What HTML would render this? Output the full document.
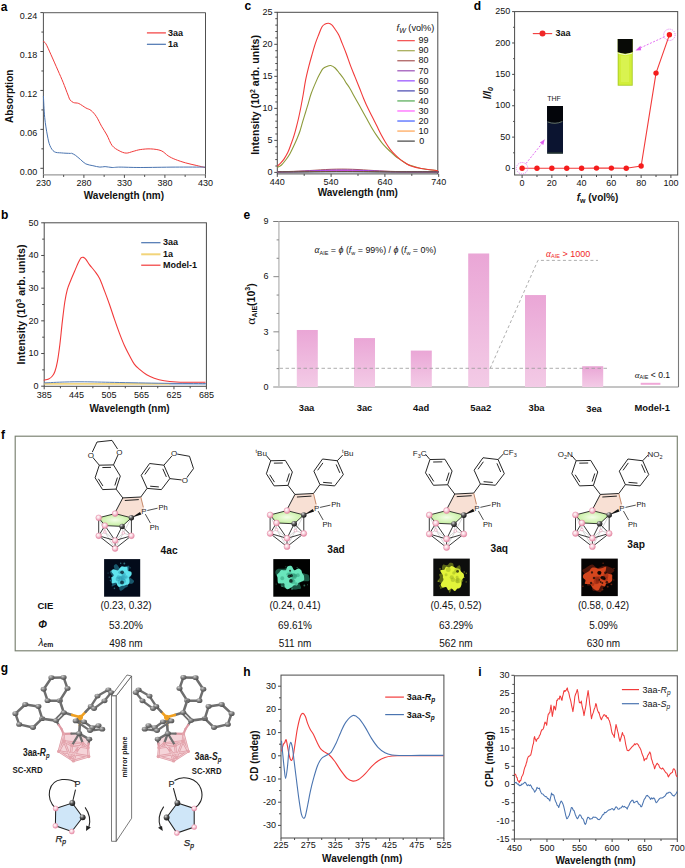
<!DOCTYPE html>
<html><head><meta charset="utf-8"><style>
html,body{margin:0;padding:0;background:#fff;width:685px;height:868px;overflow:hidden}
svg{display:block}
text{font-family:"Liberation Sans", sans-serif}
</style></head><body>
<svg width="685" height="868" viewBox="0 0 685 868">
<defs>
<linearGradient id="barg" x1="0" y1="0" x2="0" y2="1"><stop offset="0" stop-color="#eaa6d6"/><stop offset="1" stop-color="#f3cbe6"/></linearGradient>
<radialGradient id="pinkball" cx="0.4" cy="0.35" r="0.7"><stop offset="0" stop-color="#fff"/><stop offset="0.5" stop-color="#f7c9d6"/><stop offset="1" stop-color="#e07d9a"/></radialGradient>
<radialGradient id="blackball" cx="0.35" cy="0.3" r="0.75"><stop offset="0" stop-color="#ddd"/><stop offset="0.45" stop-color="#555"/><stop offset="1" stop-color="#111"/></radialGradient>
<radialGradient id="grayball" cx="0.35" cy="0.3" r="0.75"><stop offset="0" stop-color="#c8c8c8"/><stop offset="0.5" stop-color="#7a7a7a"/><stop offset="1" stop-color="#4a4a4a"/></radialGradient>
<radialGradient id="greenface" cx="0.5" cy="0.5" r="0.6"><stop offset="0" stop-color="#f4fde8"/><stop offset="1" stop-color="#b9ec8e"/></radialGradient>
</defs>
<rect width="685" height="868" fill="#fff"/>
<text x="0.8" y="10.5" font-size="12" font-weight="bold" fill="#000">a</text>
<text x="1" y="219.3" font-size="12" font-weight="bold" fill="#000">b</text>
<text x="244.6" y="9.6" font-size="12" font-weight="bold" fill="#000">c</text>
<text x="473.8" y="9.6" font-size="12" font-weight="bold" fill="#000">d</text>
<text x="243.6" y="218.7" font-size="12" font-weight="bold" fill="#000">e</text>
<text x="1" y="438.9" font-size="12" font-weight="bold" fill="#000">f</text>
<text x="0.8" y="672.3" font-size="12" font-weight="bold" fill="#000">g</text>
<text x="243.3" y="676" font-size="12" font-weight="bold" fill="#000">h</text>
<text x="478.3" y="676" font-size="12" font-weight="bold" fill="#000">i</text>
<line x1="43.4" y1="12.6" x2="205.5" y2="12.6" stroke="#7a7a7a" stroke-width="1.1"/>
<line x1="205.5" y1="12.6" x2="205.5" y2="174.9" stroke="#505050" stroke-width="1"/>
<line x1="43.4" y1="12.6" x2="43.4" y2="174.9" stroke="#505050" stroke-width="1"/>
<line x1="43.4" y1="174.9" x2="205.5" y2="174.9" stroke="#9a9a9a" stroke-width="1.3"/>
<line x1="40.4" y1="168.3" x2="43.4" y2="168.3" stroke="#4a4a4a" stroke-width="1"/>
<line x1="40.4" y1="129.37" x2="43.4" y2="129.37" stroke="#4a4a4a" stroke-width="1"/>
<line x1="40.4" y1="90.44" x2="43.4" y2="90.44" stroke="#4a4a4a" stroke-width="1"/>
<line x1="40.4" y1="51.51" x2="43.4" y2="51.51" stroke="#4a4a4a" stroke-width="1"/>
<line x1="40.4" y1="12.58" x2="43.4" y2="12.58" stroke="#4a4a4a" stroke-width="1"/>
<line x1="41.4" y1="148.84" x2="43.4" y2="148.84" stroke="#4a4a4a" stroke-width="1"/>
<line x1="41.4" y1="109.91" x2="43.4" y2="109.91" stroke="#4a4a4a" stroke-width="1"/>
<line x1="41.4" y1="70.98" x2="43.4" y2="70.98" stroke="#4a4a4a" stroke-width="1"/>
<line x1="41.4" y1="32.05" x2="43.4" y2="32.05" stroke="#4a4a4a" stroke-width="1"/>
<line x1="43.4" y1="174.9" x2="43.4" y2="177.9" stroke="#4a4a4a" stroke-width="1"/>
<line x1="83.9" y1="174.9" x2="83.9" y2="177.9" stroke="#4a4a4a" stroke-width="1"/>
<line x1="124.4" y1="174.9" x2="124.4" y2="177.9" stroke="#4a4a4a" stroke-width="1"/>
<line x1="164.9" y1="174.9" x2="164.9" y2="177.9" stroke="#4a4a4a" stroke-width="1"/>
<line x1="205.4" y1="174.9" x2="205.4" y2="177.9" stroke="#4a4a4a" stroke-width="1"/>
<line x1="63.65" y1="174.9" x2="63.65" y2="176.9" stroke="#4a4a4a" stroke-width="1"/>
<line x1="104.15" y1="174.9" x2="104.15" y2="176.9" stroke="#4a4a4a" stroke-width="1"/>
<line x1="144.65" y1="174.9" x2="144.65" y2="176.9" stroke="#4a4a4a" stroke-width="1"/>
<line x1="185.15" y1="174.9" x2="185.15" y2="176.9" stroke="#4a4a4a" stroke-width="1"/>
<text x="37.3" y="174.6" font-size="9" font-weight="normal" font-style="normal" text-anchor="end" fill="#111">0.00</text>
<text x="37.3" y="135.67" font-size="9" font-weight="normal" font-style="normal" text-anchor="end" fill="#111">0.06</text>
<text x="37.3" y="96.74" font-size="9" font-weight="normal" font-style="normal" text-anchor="end" fill="#111">0.12</text>
<text x="37.3" y="57.81" font-size="9" font-weight="normal" font-style="normal" text-anchor="end" fill="#111">0.18</text>
<text x="37.3" y="18.88" font-size="9" font-weight="normal" font-style="normal" text-anchor="end" fill="#111">0.24</text>
<text x="43.4" y="186.4" font-size="9" font-weight="normal" font-style="normal" text-anchor="middle" fill="#111">230</text>
<text x="83.9" y="186.4" font-size="9" font-weight="normal" font-style="normal" text-anchor="middle" fill="#111">280</text>
<text x="124.4" y="186.4" font-size="9" font-weight="normal" font-style="normal" text-anchor="middle" fill="#111">330</text>
<text x="164.9" y="186.4" font-size="9" font-weight="normal" font-style="normal" text-anchor="middle" fill="#111">380</text>
<text x="205.4" y="186.4" font-size="9" font-weight="normal" font-style="normal" text-anchor="middle" fill="#111">430</text>
<text x="123.9" y="199" font-size="10" font-weight="bold" font-style="normal" text-anchor="middle" fill="#111">Wavelength (nm)</text>
<text x="9.8" y="99.3" font-size="10" font-weight="bold" font-style="normal" text-anchor="middle" fill="#111" transform="rotate(-90 9.8 96.3)">Absorption</text>
<path d="M43.1 41.2 C43.57 41.63 44.62 41.62 45.9 43.8 C47.18 45.98 48.82 49.92 50.8 54.3 C52.78 58.68 55.75 65.43 57.8 70.1 C59.85 74.77 61.4 78.15 63.1 82.3 C64.8 86.45 66.83 92.07 68 95 C69.17 97.93 69.17 98.63 70.1 99.9 C71.03 101.17 72.15 102 73.6 102.6 C75.05 103.2 76.77 102.62 78.8 103.5 C80.83 104.38 83.75 106.73 85.8 107.9 C87.85 109.07 89.33 109.05 91.1 110.5 C92.87 111.95 94.65 113.97 96.4 116.6 C98.15 119.23 99.85 123.23 101.6 126.3 C103.35 129.37 105.15 131.8 106.9 135 C108.65 138.2 110.07 142.88 112.1 145.5 C114.13 148.12 116.77 149.43 119.1 150.7 C121.43 151.97 123.77 152.98 126.1 153.1 C128.43 153.22 130.75 151.98 133.1 151.4 C135.45 150.82 137.27 150.02 140.2 149.6 C143.13 149.18 147.2 148.72 150.7 148.9 C154.2 149.08 158.28 149.53 161.2 150.7 C164.12 151.87 165.87 154.45 168.2 155.9 C170.53 157.35 172.28 158.23 175.2 159.4 C178.12 160.57 182.2 161.9 185.7 162.9 C189.2 163.9 192.98 164.63 196.2 165.4 C199.42 166.17 203.53 167.15 205 167.5" stroke="#f23a3a" stroke-width="1" fill="none"/>
<path d="M43.4 96 C43.62 99.58 44.05 111 44.7 117.5 C45.35 124 46.43 130.33 47.3 135 C48.17 139.67 48.73 142.72 49.9 145.5 C51.07 148.28 52.4 150.47 54.3 151.7 C56.2 152.93 58.67 152.62 61.3 152.9 C63.93 153.18 68.35 153.32 70.1 153.4 C71.85 153.48 70.93 153.1 71.8 153.4 C72.67 153.7 73.83 154.17 75.3 155.2 C76.77 156.23 78.85 158.15 80.6 159.6 C82.35 161.05 83.75 162.88 85.8 163.9 C87.85 164.92 90.55 165.17 92.9 165.7 C95.25 166.23 97.87 166.95 99.9 167.1 C101.93 167.25 103.07 166.53 105.1 166.6 C107.13 166.67 109.62 167.42 112.1 167.5 C114.58 167.58 115.32 167.1 120 167.1 C124.68 167.1 131 167.5 140.2 167.5 C149.4 167.5 164.4 167.17 175.2 167.1 C186 167.03 200.03 167.1 205 167.1" stroke="#4a74b0" stroke-width="1" fill="none"/>
<line x1="146.9" y1="32.9" x2="165.9" y2="32.9" stroke="#f23a3a" stroke-width="1.2"/>
<line x1="146.9" y1="44.3" x2="165.9" y2="44.3" stroke="#4a74b0" stroke-width="1.2"/>
<text x="168" y="36" font-size="9" font-weight="bold" font-style="normal" text-anchor="start" fill="#111">3aa</text>
<text x="168" y="47.4" font-size="9" font-weight="bold" font-style="normal" text-anchor="start" fill="#111">1a</text>
<rect x="44.2" y="222.8" width="162.2" height="163.5" fill="none" stroke="#4a4a4a" stroke-width="1"/>
<line x1="41.2" y1="386.2" x2="44.2" y2="386.2" stroke="#4a4a4a" stroke-width="1"/>
<line x1="41.2" y1="353.52" x2="44.2" y2="353.52" stroke="#4a4a4a" stroke-width="1"/>
<line x1="41.2" y1="320.84" x2="44.2" y2="320.84" stroke="#4a4a4a" stroke-width="1"/>
<line x1="41.2" y1="288.16" x2="44.2" y2="288.16" stroke="#4a4a4a" stroke-width="1"/>
<line x1="41.2" y1="255.48" x2="44.2" y2="255.48" stroke="#4a4a4a" stroke-width="1"/>
<line x1="41.2" y1="222.8" x2="44.2" y2="222.8" stroke="#4a4a4a" stroke-width="1"/>
<line x1="42.2" y1="369.86" x2="44.2" y2="369.86" stroke="#4a4a4a" stroke-width="1"/>
<line x1="42.2" y1="337.18" x2="44.2" y2="337.18" stroke="#4a4a4a" stroke-width="1"/>
<line x1="42.2" y1="304.5" x2="44.2" y2="304.5" stroke="#4a4a4a" stroke-width="1"/>
<line x1="42.2" y1="271.82" x2="44.2" y2="271.82" stroke="#4a4a4a" stroke-width="1"/>
<line x1="42.2" y1="239.14" x2="44.2" y2="239.14" stroke="#4a4a4a" stroke-width="1"/>
<line x1="44.2" y1="386.3" x2="44.2" y2="389.3" stroke="#4a4a4a" stroke-width="1"/>
<line x1="76.64" y1="386.3" x2="76.64" y2="389.3" stroke="#4a4a4a" stroke-width="1"/>
<line x1="109.08" y1="386.3" x2="109.08" y2="389.3" stroke="#4a4a4a" stroke-width="1"/>
<line x1="141.52" y1="386.3" x2="141.52" y2="389.3" stroke="#4a4a4a" stroke-width="1"/>
<line x1="173.96" y1="386.3" x2="173.96" y2="389.3" stroke="#4a4a4a" stroke-width="1"/>
<line x1="206.4" y1="386.3" x2="206.4" y2="389.3" stroke="#4a4a4a" stroke-width="1"/>
<line x1="60.42" y1="386.3" x2="60.42" y2="388.3" stroke="#4a4a4a" stroke-width="1"/>
<line x1="92.86" y1="386.3" x2="92.86" y2="388.3" stroke="#4a4a4a" stroke-width="1"/>
<line x1="125.3" y1="386.3" x2="125.3" y2="388.3" stroke="#4a4a4a" stroke-width="1"/>
<line x1="157.74" y1="386.3" x2="157.74" y2="388.3" stroke="#4a4a4a" stroke-width="1"/>
<line x1="190.18" y1="386.3" x2="190.18" y2="388.3" stroke="#4a4a4a" stroke-width="1"/>
<text x="38.5" y="388.9" font-size="9" font-weight="normal" font-style="normal" text-anchor="end" fill="#111">0</text>
<text x="38.5" y="356.22" font-size="9" font-weight="normal" font-style="normal" text-anchor="end" fill="#111">10</text>
<text x="38.5" y="323.54" font-size="9" font-weight="normal" font-style="normal" text-anchor="end" fill="#111">20</text>
<text x="38.5" y="290.86" font-size="9" font-weight="normal" font-style="normal" text-anchor="end" fill="#111">30</text>
<text x="38.5" y="258.18" font-size="9" font-weight="normal" font-style="normal" text-anchor="end" fill="#111">40</text>
<text x="38.5" y="225.5" font-size="9" font-weight="normal" font-style="normal" text-anchor="end" fill="#111">50</text>
<text x="44.2" y="397.5" font-size="9" font-weight="normal" font-style="normal" text-anchor="middle" fill="#111">385</text>
<text x="76.64" y="397.5" font-size="9" font-weight="normal" font-style="normal" text-anchor="middle" fill="#111">445</text>
<text x="109.08" y="397.5" font-size="9" font-weight="normal" font-style="normal" text-anchor="middle" fill="#111">505</text>
<text x="141.52" y="397.5" font-size="9" font-weight="normal" font-style="normal" text-anchor="middle" fill="#111">565</text>
<text x="173.96" y="397.5" font-size="9" font-weight="normal" font-style="normal" text-anchor="middle" fill="#111">625</text>
<text x="206.4" y="397.5" font-size="9" font-weight="normal" font-style="normal" text-anchor="middle" fill="#111">685</text>
<text x="129.6" y="411.8" font-size="10" font-weight="bold" font-style="normal" text-anchor="middle" fill="#111">Wavelength (nm)</text>
<text x="0" y="0" font-size="10.6" font-weight="bold" text-anchor="middle" fill="#111" transform="translate(24.5,304.5) rotate(-90)">Intensity (10<tspan font-size="7" dy="-4">3</tspan><tspan dy="4"> arb. units)</tspan></text>
<path d="M43.7 380.2 C44.53 380 47.25 379.7 48.7 379 C50.15 378.3 51.37 377.25 52.4 376 C53.43 374.75 54.07 373.9 54.9 371.5 C55.73 369.1 56.57 366.15 57.4 361.6 C58.23 357.05 59.08 350.82 59.9 344.2 C60.72 337.58 61.48 328.93 62.3 321.9 C63.12 314.87 63.97 307.38 64.8 302 C65.63 296.62 66.27 293.32 67.3 289.6 C68.33 285.88 69.77 282.8 71 279.7 C72.23 276.6 73.45 273.9 74.7 271 C75.95 268.1 77.45 264.48 78.5 262.3 C79.55 260.12 80.18 258.72 81 257.9 C81.82 257.08 82.58 257.15 83.4 257.4 C84.22 257.65 84.87 258.17 85.9 259.4 C86.93 260.63 88.15 262.87 89.6 264.8 C91.05 266.73 92.93 268.72 94.6 271 C96.27 273.28 97.95 275.18 99.6 278.5 C101.25 281.82 102.85 286.57 104.5 290.9 C106.15 295.23 107.83 299.75 109.5 304.5 C111.17 309.25 112.85 314.63 114.5 319.4 C116.15 324.17 117.75 328.75 119.4 333.1 C121.05 337.45 122.73 341.78 124.4 345.5 C126.07 349.22 127.75 352.3 129.4 355.4 C131.05 358.5 132.65 361.82 134.3 364.1 C135.95 366.38 137.23 367.32 139.3 369.1 C141.37 370.88 144.22 373.28 146.7 374.8 C149.18 376.32 151.3 377.22 154.2 378.2 C157.1 379.18 160.38 380.07 164.1 380.7 C167.82 381.33 172.37 381.75 176.5 382 C180.63 382.25 184.07 382.17 188.9 382.2 C193.73 382.23 202.73 382.2 205.5 382.2" stroke="#f23a3a" stroke-width="1.1" fill="none"/>
<path d="M169 383.9 L205.8 384" stroke="#a8c0e0" stroke-width="1.6" fill="none"/>
<path d="M44.4 383.9 C56.08 383.9 93.5 383.9 114.5 383.9 C135.5 383.9 161.08 383.9 170.4 383.9" stroke="#f2d680" stroke-width="1.8" fill="none"/>
<path d="M44.4 382.9 C47.8 382.75 58.08 382.18 64.8 382 C71.52 381.82 76.42 381.73 84.7 381.8 C92.98 381.87 101.27 382.15 114.5 382.4 C127.73 382.65 148.88 383.1 164.1 383.3 C179.32 383.5 198.85 383.55 205.8 383.6" stroke="#5a80b8" stroke-width="1" fill="none"/>
<line x1="141.2" y1="242.7" x2="160.5" y2="242.7" stroke="#4a74b0" stroke-width="1.2"/>
<line x1="141.2" y1="254.3" x2="160.5" y2="254.3" stroke="#f2d47a" stroke-width="2"/>
<line x1="141.2" y1="265.2" x2="160.5" y2="265.2" stroke="#f23a3a" stroke-width="1.2"/>
<text x="162.9" y="245.4" font-size="9" font-weight="bold" font-style="normal" text-anchor="start" fill="#111">3aa</text>
<text x="162.9" y="257" font-size="9" font-weight="bold" font-style="normal" text-anchor="start" fill="#111">1a</text>
<text x="162.9" y="267.9" font-size="9" font-weight="bold" font-style="normal" text-anchor="start" fill="#111">Model-1</text>
<rect x="277.3" y="12.3" width="160.5" height="161.6" fill="none" stroke="#4a4a4a" stroke-width="1"/>
<line x1="274.3" y1="172.4" x2="277.3" y2="172.4" stroke="#4a4a4a" stroke-width="1"/>
<line x1="274.3" y1="140.38" x2="277.3" y2="140.38" stroke="#4a4a4a" stroke-width="1"/>
<line x1="274.3" y1="108.36" x2="277.3" y2="108.36" stroke="#4a4a4a" stroke-width="1"/>
<line x1="274.3" y1="76.34" x2="277.3" y2="76.34" stroke="#4a4a4a" stroke-width="1"/>
<line x1="274.3" y1="44.32" x2="277.3" y2="44.32" stroke="#4a4a4a" stroke-width="1"/>
<line x1="274.3" y1="12.3" x2="277.3" y2="12.3" stroke="#4a4a4a" stroke-width="1"/>
<line x1="275.3" y1="166" x2="277.3" y2="166" stroke="#4a4a4a" stroke-width="1"/>
<line x1="275.3" y1="159.59" x2="277.3" y2="159.59" stroke="#4a4a4a" stroke-width="1"/>
<line x1="275.3" y1="153.19" x2="277.3" y2="153.19" stroke="#4a4a4a" stroke-width="1"/>
<line x1="275.3" y1="146.78" x2="277.3" y2="146.78" stroke="#4a4a4a" stroke-width="1"/>
<line x1="275.3" y1="133.98" x2="277.3" y2="133.98" stroke="#4a4a4a" stroke-width="1"/>
<line x1="275.3" y1="127.57" x2="277.3" y2="127.57" stroke="#4a4a4a" stroke-width="1"/>
<line x1="275.3" y1="121.17" x2="277.3" y2="121.17" stroke="#4a4a4a" stroke-width="1"/>
<line x1="275.3" y1="114.76" x2="277.3" y2="114.76" stroke="#4a4a4a" stroke-width="1"/>
<line x1="275.3" y1="101.96" x2="277.3" y2="101.96" stroke="#4a4a4a" stroke-width="1"/>
<line x1="275.3" y1="95.55" x2="277.3" y2="95.55" stroke="#4a4a4a" stroke-width="1"/>
<line x1="275.3" y1="89.15" x2="277.3" y2="89.15" stroke="#4a4a4a" stroke-width="1"/>
<line x1="275.3" y1="82.74" x2="277.3" y2="82.74" stroke="#4a4a4a" stroke-width="1"/>
<line x1="275.3" y1="69.94" x2="277.3" y2="69.94" stroke="#4a4a4a" stroke-width="1"/>
<line x1="275.3" y1="63.53" x2="277.3" y2="63.53" stroke="#4a4a4a" stroke-width="1"/>
<line x1="275.3" y1="57.13" x2="277.3" y2="57.13" stroke="#4a4a4a" stroke-width="1"/>
<line x1="275.3" y1="50.72" x2="277.3" y2="50.72" stroke="#4a4a4a" stroke-width="1"/>
<line x1="275.3" y1="37.92" x2="277.3" y2="37.92" stroke="#4a4a4a" stroke-width="1"/>
<line x1="275.3" y1="31.51" x2="277.3" y2="31.51" stroke="#4a4a4a" stroke-width="1"/>
<line x1="275.3" y1="25.11" x2="277.3" y2="25.11" stroke="#4a4a4a" stroke-width="1"/>
<line x1="275.3" y1="18.7" x2="277.3" y2="18.7" stroke="#4a4a4a" stroke-width="1"/>
<line x1="277.3" y1="173.9" x2="277.3" y2="176.9" stroke="#4a4a4a" stroke-width="1"/>
<line x1="331.1" y1="173.9" x2="331.1" y2="176.9" stroke="#4a4a4a" stroke-width="1"/>
<line x1="384.9" y1="173.9" x2="384.9" y2="176.9" stroke="#4a4a4a" stroke-width="1"/>
<line x1="438.7" y1="173.9" x2="438.7" y2="176.9" stroke="#4a4a4a" stroke-width="1"/>
<line x1="304.2" y1="173.9" x2="304.2" y2="175.9" stroke="#4a4a4a" stroke-width="1"/>
<line x1="358" y1="173.9" x2="358" y2="175.9" stroke="#4a4a4a" stroke-width="1"/>
<line x1="411.8" y1="173.9" x2="411.8" y2="175.9" stroke="#4a4a4a" stroke-width="1"/>
<text x="272.5" y="175.1" font-size="9" font-weight="normal" font-style="normal" text-anchor="end" fill="#111">0</text>
<text x="272.5" y="143.08" font-size="9" font-weight="normal" font-style="normal" text-anchor="end" fill="#111">5</text>
<text x="272.5" y="111.06" font-size="9" font-weight="normal" font-style="normal" text-anchor="end" fill="#111">10</text>
<text x="272.5" y="79.04" font-size="9" font-weight="normal" font-style="normal" text-anchor="end" fill="#111">15</text>
<text x="272.5" y="47.02" font-size="9" font-weight="normal" font-style="normal" text-anchor="end" fill="#111">20</text>
<text x="272.5" y="15" font-size="9" font-weight="normal" font-style="normal" text-anchor="end" fill="#111">25</text>
<text x="277.3" y="184.9" font-size="9" font-weight="normal" font-style="normal" text-anchor="middle" fill="#111">440</text>
<text x="331.1" y="184.9" font-size="9" font-weight="normal" font-style="normal" text-anchor="middle" fill="#111">540</text>
<text x="384.9" y="184.9" font-size="9" font-weight="normal" font-style="normal" text-anchor="middle" fill="#111">640</text>
<text x="438.7" y="184.9" font-size="9" font-weight="normal" font-style="normal" text-anchor="middle" fill="#111">740</text>
<text x="357.8" y="195.7" font-size="10" font-weight="bold" font-style="normal" text-anchor="middle" fill="#111">Wavelength (nm)</text>
<text x="0" y="0" font-size="10.6" font-weight="bold" text-anchor="middle" fill="#111" transform="translate(259,94.9) rotate(-90)">Intensity (10<tspan font-size="7" dy="-4">2</tspan><tspan dy="4"> arb. units)</tspan></text>
<path d="M277.3 171.74 C278.2 171.72 280.89 171.69 282.68 171.65 C284.47 171.61 286.27 171.57 288.06 171.52 C289.85 171.47 291.65 171.41 293.44 171.35 C295.23 171.28 297.03 171.21 298.82 171.12 C300.61 171.04 302.41 170.95 304.2 170.85 C305.99 170.75 307.79 170.65 309.58 170.54 C311.37 170.43 313.17 170.31 314.96 170.2 C316.75 170.08 318.55 169.96 320.34 169.85 C322.13 169.75 323.93 169.64 325.72 169.54 C327.51 169.45 329.31 169.36 331.1 169.29 C332.89 169.22 334.69 169.16 336.48 169.13 C338.27 169.09 340.07 169.07 341.86 169.07 C343.65 169.07 345.45 169.09 347.24 169.13 C349.03 169.16 350.83 169.22 352.62 169.29 C354.41 169.36 356.21 169.45 358 169.54 C359.79 169.64 361.59 169.75 363.38 169.85 C365.17 169.96 366.97 170.08 368.76 170.2 C370.55 170.31 372.35 170.43 374.14 170.54 C375.93 170.65 377.73 170.75 379.52 170.85 C381.31 170.95 383.11 171.04 384.9 171.12 C386.69 171.21 388.49 171.28 390.28 171.35 C392.07 171.41 393.87 171.47 395.66 171.52 C397.45 171.57 399.25 171.61 401.04 171.65 C402.83 171.69 404.63 171.71 406.42 171.74 C408.21 171.76 410.01 171.78 411.8 171.8 C413.59 171.81 415.39 171.83 417.18 171.84 C418.97 171.85 420.77 171.85 422.56 171.86 C424.35 171.87 426.15 171.87 427.94 171.87 C429.73 171.88 431.53 171.88 433.32 171.88 C435.11 171.88 437.8 171.88 438.7 171.88" stroke="#a04848" stroke-width="0.9" fill="none"/>
<path d="M277.3 171.78 C278.2 171.77 280.89 171.74 282.68 171.71 C284.47 171.69 286.27 171.66 288.06 171.62 C289.85 171.58 291.65 171.54 293.44 171.5 C295.23 171.45 297.03 171.39 298.82 171.33 C300.61 171.27 302.41 171.21 304.2 171.13 C305.99 171.06 307.79 170.98 309.58 170.9 C311.37 170.83 313.17 170.74 314.96 170.66 C316.75 170.57 318.55 170.49 320.34 170.41 C322.13 170.33 323.93 170.25 325.72 170.18 C327.51 170.11 329.31 170.05 331.1 170 C332.89 169.95 334.69 169.91 336.48 169.88 C338.27 169.85 340.07 169.84 341.86 169.84 C343.65 169.84 345.45 169.85 347.24 169.88 C349.03 169.91 350.83 169.95 352.62 170 C354.41 170.05 356.21 170.11 358 170.18 C359.79 170.25 361.59 170.33 363.38 170.41 C365.17 170.49 366.97 170.57 368.76 170.66 C370.55 170.74 372.35 170.83 374.14 170.9 C375.93 170.98 377.73 171.06 379.52 171.13 C381.31 171.21 383.11 171.27 384.9 171.33 C386.69 171.39 388.49 171.45 390.28 171.5 C392.07 171.54 393.87 171.58 395.66 171.62 C397.45 171.66 399.25 171.69 401.04 171.71 C402.83 171.74 404.63 171.76 406.42 171.78 C408.21 171.8 410.01 171.81 411.8 171.82 C413.59 171.83 415.39 171.84 417.18 171.85 C418.97 171.86 420.77 171.86 422.56 171.87 C424.35 171.87 426.15 171.87 427.94 171.88 C429.73 171.88 431.53 171.88 433.32 171.88 C435.11 171.88 437.8 171.88 438.7 171.88" stroke="#9040b0" stroke-width="0.9" fill="none"/>
<path d="M277.3 171.82 C278.2 171.81 280.89 171.8 282.68 171.78 C284.47 171.76 286.27 171.74 288.06 171.72 C289.85 171.7 291.65 171.67 293.44 171.64 C295.23 171.61 297.03 171.58 298.82 171.54 C300.61 171.5 302.41 171.46 304.2 171.42 C305.99 171.37 307.79 171.32 309.58 171.27 C311.37 171.22 313.17 171.17 314.96 171.12 C316.75 171.07 318.55 171.01 320.34 170.96 C322.13 170.91 323.93 170.86 325.72 170.82 C327.51 170.78 329.31 170.74 331.1 170.71 C332.89 170.68 334.69 170.65 336.48 170.63 C338.27 170.62 340.07 170.61 341.86 170.61 C343.65 170.61 345.45 170.62 347.24 170.63 C349.03 170.65 350.83 170.68 352.62 170.71 C354.41 170.74 356.21 170.78 358 170.82 C359.79 170.86 361.59 170.91 363.38 170.96 C365.17 171.01 366.97 171.07 368.76 171.12 C370.55 171.17 372.35 171.22 374.14 171.27 C375.93 171.32 377.73 171.37 379.52 171.42 C381.31 171.46 383.11 171.5 384.9 171.54 C386.69 171.58 388.49 171.61 390.28 171.64 C392.07 171.67 393.87 171.7 395.66 171.72 C397.45 171.74 399.25 171.76 401.04 171.78 C402.83 171.8 404.63 171.81 406.42 171.82 C408.21 171.83 410.01 171.84 411.8 171.85 C413.59 171.85 415.39 171.86 417.18 171.86 C418.97 171.87 420.77 171.87 422.56 171.87 C424.35 171.88 426.15 171.88 427.94 171.88 C429.73 171.88 431.53 171.88 433.32 171.88 C435.11 171.89 437.8 171.89 438.7 171.89" stroke="#8a3cff" stroke-width="0.9" fill="none"/>
<path d="M277.3 171.85 C278.2 171.85 280.89 171.84 282.68 171.83 C284.47 171.83 286.27 171.82 288.06 171.8 C289.85 171.79 291.65 171.78 293.44 171.77 C295.23 171.75 297.03 171.73 298.82 171.71 C300.61 171.7 302.41 171.67 304.2 171.65 C305.99 171.63 307.79 171.61 309.58 171.58 C311.37 171.56 313.17 171.53 314.96 171.5 C316.75 171.48 318.55 171.45 320.34 171.43 C322.13 171.4 323.93 171.38 325.72 171.35 C327.51 171.33 329.31 171.31 331.1 171.3 C332.89 171.28 334.69 171.27 336.48 171.26 C338.27 171.25 340.07 171.25 341.86 171.25 C343.65 171.25 345.45 171.25 347.24 171.26 C349.03 171.27 350.83 171.28 352.62 171.3 C354.41 171.31 356.21 171.33 358 171.35 C359.79 171.38 361.59 171.4 363.38 171.43 C365.17 171.45 366.97 171.48 368.76 171.5 C370.55 171.53 372.35 171.56 374.14 171.58 C375.93 171.61 377.73 171.63 379.52 171.65 C381.31 171.67 383.11 171.7 384.9 171.71 C386.69 171.73 388.49 171.75 390.28 171.77 C392.07 171.78 393.87 171.79 395.66 171.8 C397.45 171.82 399.25 171.83 401.04 171.83 C402.83 171.84 404.63 171.85 406.42 171.85 C408.21 171.86 410.01 171.86 411.8 171.87 C413.59 171.87 415.39 171.87 417.18 171.88 C418.97 171.88 420.77 171.88 422.56 171.88 C424.35 171.88 426.15 171.88 427.94 171.88 C429.73 171.89 431.53 171.89 433.32 171.89 C435.11 171.89 437.8 171.89 438.7 171.89" stroke="#3030a0" stroke-width="0.9" fill="none"/>
<path d="M277.3 171.87 C278.2 171.87 280.89 171.86 282.68 171.86 C284.47 171.85 286.27 171.84 288.06 171.84 C289.85 171.83 291.65 171.82 293.44 171.81 C295.23 171.81 297.03 171.79 298.82 171.78 C300.61 171.77 302.41 171.76 304.2 171.75 C305.99 171.73 307.79 171.72 309.58 171.7 C311.37 171.69 313.17 171.67 314.96 171.66 C316.75 171.64 318.55 171.63 320.34 171.61 C322.13 171.6 323.93 171.58 325.72 171.57 C327.51 171.56 329.31 171.54 331.1 171.53 C332.89 171.52 334.69 171.52 336.48 171.51 C338.27 171.51 340.07 171.5 341.86 171.5 C343.65 171.5 345.45 171.51 347.24 171.51 C349.03 171.52 350.83 171.52 352.62 171.53 C354.41 171.54 356.21 171.56 358 171.57 C359.79 171.58 361.59 171.6 363.38 171.61 C365.17 171.63 366.97 171.64 368.76 171.66 C370.55 171.67 372.35 171.69 374.14 171.7 C375.93 171.72 377.73 171.73 379.52 171.75 C381.31 171.76 383.11 171.77 384.9 171.78 C386.69 171.79 388.49 171.81 390.28 171.81 C392.07 171.82 393.87 171.83 395.66 171.84 C397.45 171.84 399.25 171.85 401.04 171.86 C402.83 171.86 404.63 171.86 406.42 171.87 C408.21 171.87 410.01 171.87 411.8 171.88 C413.59 171.88 415.39 171.88 417.18 171.88 C418.97 171.88 420.77 171.88 422.56 171.88 C424.35 171.88 426.15 171.89 427.94 171.89 C429.73 171.89 431.53 171.89 433.32 171.89 C435.11 171.89 437.8 171.89 438.7 171.89" stroke="#40a040" stroke-width="0.9" fill="none"/>
<path d="M277.3 171.84 C278.2 171.84 280.89 171.82 282.68 171.81 C284.47 171.8 286.27 171.79 288.06 171.77 C289.85 171.76 291.65 171.74 293.44 171.72 C295.23 171.69 297.03 171.67 298.82 171.64 C300.61 171.62 302.41 171.59 304.2 171.56 C305.99 171.53 307.79 171.49 309.58 171.46 C311.37 171.42 313.17 171.39 314.96 171.35 C316.75 171.31 318.55 171.28 320.34 171.24 C322.13 171.21 323.93 171.17 325.72 171.14 C327.51 171.11 329.31 171.08 331.1 171.06 C332.89 171.04 334.69 171.02 336.48 171.01 C338.27 171 340.07 170.99 341.86 170.99 C343.65 170.99 345.45 171 347.24 171.01 C349.03 171.02 350.83 171.04 352.62 171.06 C354.41 171.08 356.21 171.11 358 171.14 C359.79 171.17 361.59 171.21 363.38 171.24 C365.17 171.28 366.97 171.31 368.76 171.35 C370.55 171.39 372.35 171.42 374.14 171.46 C375.93 171.49 377.73 171.53 379.52 171.56 C381.31 171.59 383.11 171.62 384.9 171.64 C386.69 171.67 388.49 171.69 390.28 171.72 C392.07 171.74 393.87 171.76 395.66 171.77 C397.45 171.79 399.25 171.8 401.04 171.81 C402.83 171.82 404.63 171.83 406.42 171.84 C408.21 171.85 410.01 171.85 411.8 171.86 C413.59 171.86 415.39 171.87 417.18 171.87 C418.97 171.87 420.77 171.88 422.56 171.88 C424.35 171.88 426.15 171.88 427.94 171.88 C429.73 171.88 431.53 171.88 433.32 171.89 C435.11 171.89 437.8 171.89 438.7 171.89" stroke="#ff40ff" stroke-width="0.9" fill="none"/>
<path d="M277.3 171.87 C278.2 171.87 280.89 171.87 282.68 171.87 C284.47 171.86 286.27 171.86 288.06 171.85 C289.85 171.85 291.65 171.84 293.44 171.84 C295.23 171.83 297.03 171.83 298.82 171.82 C300.61 171.81 302.41 171.8 304.2 171.79 C305.99 171.78 307.79 171.77 309.58 171.76 C311.37 171.75 313.17 171.74 314.96 171.73 C316.75 171.72 318.55 171.71 320.34 171.7 C322.13 171.69 323.93 171.68 325.72 171.67 C327.51 171.67 329.31 171.66 331.1 171.65 C332.89 171.65 334.69 171.64 336.48 171.64 C338.27 171.63 340.07 171.63 341.86 171.63 C343.65 171.63 345.45 171.63 347.24 171.64 C349.03 171.64 350.83 171.65 352.62 171.65 C354.41 171.66 356.21 171.67 358 171.67 C359.79 171.68 361.59 171.69 363.38 171.7 C365.17 171.71 366.97 171.72 368.76 171.73 C370.55 171.74 372.35 171.75 374.14 171.76 C375.93 171.77 377.73 171.78 379.52 171.79 C381.31 171.8 383.11 171.81 384.9 171.82 C386.69 171.83 388.49 171.83 390.28 171.84 C392.07 171.84 393.87 171.85 395.66 171.85 C397.45 171.86 399.25 171.86 401.04 171.87 C402.83 171.87 404.63 171.87 406.42 171.87 C408.21 171.88 410.01 171.88 411.8 171.88 C413.59 171.88 415.39 171.88 417.18 171.88 C418.97 171.88 420.77 171.88 422.56 171.89 C424.35 171.89 426.15 171.89 427.94 171.89 C429.73 171.89 431.53 171.89 433.32 171.89 C435.11 171.89 437.8 171.89 438.7 171.89" stroke="#3050ff" stroke-width="0.9" fill="none"/>
<path d="M277.3 171.86 C278.2 171.86 280.89 171.85 282.68 171.84 C284.47 171.84 286.27 171.83 288.06 171.82 C289.85 171.81 291.65 171.8 293.44 171.79 C295.23 171.78 297.03 171.76 298.82 171.75 C300.61 171.73 302.41 171.72 304.2 171.7 C305.99 171.68 307.79 171.66 309.58 171.64 C311.37 171.62 313.17 171.6 314.96 171.58 C316.75 171.56 318.55 171.54 320.34 171.52 C322.13 171.5 323.93 171.48 325.72 171.46 C327.51 171.44 329.31 171.43 331.1 171.42 C332.89 171.4 334.69 171.39 336.48 171.39 C338.27 171.38 340.07 171.38 341.86 171.38 C343.65 171.38 345.45 171.38 347.24 171.39 C349.03 171.39 350.83 171.4 352.62 171.42 C354.41 171.43 356.21 171.44 358 171.46 C359.79 171.48 361.59 171.5 363.38 171.52 C365.17 171.54 366.97 171.56 368.76 171.58 C370.55 171.6 372.35 171.62 374.14 171.64 C375.93 171.66 377.73 171.68 379.52 171.7 C381.31 171.72 383.11 171.73 384.9 171.75 C386.69 171.76 388.49 171.78 390.28 171.79 C392.07 171.8 393.87 171.81 395.66 171.82 C397.45 171.83 399.25 171.84 401.04 171.84 C402.83 171.85 404.63 171.86 406.42 171.86 C408.21 171.87 410.01 171.87 411.8 171.87 C413.59 171.87 415.39 171.88 417.18 171.88 C418.97 171.88 420.77 171.88 422.56 171.88 C424.35 171.88 426.15 171.88 427.94 171.88 C429.73 171.89 431.53 171.89 433.32 171.89 C435.11 171.89 437.8 171.89 438.7 171.89" stroke="#ff9a40" stroke-width="0.9" fill="none"/>
<path d="M277.3 171.88 C278.2 171.88 280.89 171.88 282.68 171.88 C284.47 171.88 286.27 171.87 288.06 171.87 C289.85 171.87 291.65 171.87 293.44 171.86 C295.23 171.86 297.03 171.86 298.82 171.85 C300.61 171.85 302.41 171.85 304.2 171.84 C305.99 171.84 307.79 171.83 309.58 171.83 C311.37 171.82 313.17 171.82 314.96 171.81 C316.75 171.81 318.55 171.8 320.34 171.8 C322.13 171.79 323.93 171.79 325.72 171.78 C327.51 171.78 329.31 171.77 331.1 171.77 C332.89 171.77 334.69 171.76 336.48 171.76 C338.27 171.76 340.07 171.76 341.86 171.76 C343.65 171.76 345.45 171.76 347.24 171.76 C349.03 171.76 350.83 171.77 352.62 171.77 C354.41 171.77 356.21 171.78 358 171.78 C359.79 171.79 361.59 171.79 363.38 171.8 C365.17 171.8 366.97 171.81 368.76 171.81 C370.55 171.82 372.35 171.82 374.14 171.83 C375.93 171.83 377.73 171.84 379.52 171.84 C381.31 171.85 383.11 171.85 384.9 171.85 C386.69 171.86 388.49 171.86 390.28 171.86 C392.07 171.87 393.87 171.87 395.66 171.87 C397.45 171.87 399.25 171.88 401.04 171.88 C402.83 171.88 404.63 171.88 406.42 171.88 C408.21 171.88 410.01 171.88 411.8 171.88 C413.59 171.88 415.39 171.88 417.18 171.89 C418.97 171.89 420.77 171.89 422.56 171.89 C424.35 171.89 426.15 171.89 427.94 171.89 C429.73 171.89 431.53 171.89 433.32 171.89 C435.11 171.89 437.8 171.89 438.7 171.89" stroke="#303030" stroke-width="0.9" fill="none"/>
<path d="M277.4 167.4 C278.08 167 280.05 166.32 281.5 165 C282.95 163.68 284.72 161.33 286.1 159.5 C287.48 157.67 288.57 156.15 289.8 154 C291.03 151.85 292.27 149.22 293.5 146.6 C294.73 143.98 296.12 140.9 297.2 138.3 C298.28 135.7 299.08 133.77 300 131 C300.92 128.23 301.78 124.78 302.7 121.7 C303.62 118.62 304.57 115.57 305.5 112.5 C306.43 109.43 307.35 106.47 308.3 103.3 C309.25 100.13 309.83 97.28 311.2 93.5 C312.57 89.72 315.08 83.83 316.5 80.6 C317.92 77.37 318.62 76.1 319.7 74.1 C320.78 72.1 321.72 69.92 323 68.6 C324.28 67.28 326.12 66.72 327.4 66.2 C328.68 65.68 329.42 65.2 330.7 65.5 C331.98 65.8 333.63 66.7 335.1 68 C336.57 69.3 338.1 71.55 339.5 73.3 C340.9 75.05 342.33 76.82 343.5 78.5 C344.67 80.18 345.5 81.85 346.5 83.4 C347.5 84.95 348.08 85.42 349.5 87.8 C350.92 90.18 353.17 94.42 355 97.7 C356.83 100.98 358.68 104.23 360.5 107.5 C362.32 110.77 364.08 114.02 365.9 117.3 C367.72 120.58 369.57 124.1 371.4 127.2 C373.23 130.3 374.9 132.98 376.9 135.9 C378.9 138.82 381.15 142.07 383.4 144.7 C385.65 147.33 388.38 149.77 390.4 151.7 C392.42 153.63 393.78 154.93 395.5 156.3 C397.22 157.67 398.82 158.63 400.7 159.9 C402.58 161.17 404.58 162.8 406.8 163.9 C409.02 165 411.62 165.73 414 166.5 C416.38 167.27 417.13 167.82 421.1 168.5 C425.07 169.18 435.02 170.25 437.8 170.6" stroke="#8c9a3a" stroke-width="1.1" fill="none"/>
<path d="M277.4 166 C277.93 165.53 279.45 164.43 280.6 163.2 C281.75 161.97 283.07 160.45 284.3 158.6 C285.53 156.75 286.85 154.57 288 152.1 C289.15 149.63 290.2 146.55 291.2 143.8 C292.2 141.05 293.15 138.35 294 135.6 C294.85 132.85 295.53 130.23 296.3 127.3 C297.07 124.37 297.83 121.38 298.6 118 C299.37 114.62 300.13 110.92 300.9 107 C301.67 103.08 302.43 98.9 303.2 94.5 C303.97 90.1 304.57 85.28 305.5 80.6 C306.43 75.92 307.7 70.77 308.8 66.4 C309.9 62.03 311 58.23 312.1 54.4 C313.2 50.57 314.3 46.68 315.4 43.4 C316.5 40.12 317.62 37.43 318.7 34.7 C319.78 31.97 320.9 28.73 321.9 27 C322.9 25.27 323.6 24.93 324.7 24.3 C325.8 23.67 327.32 23.12 328.5 23.2 C329.68 23.28 330.7 23.8 331.8 24.8 C332.9 25.8 333.92 27.47 335.1 29.2 C336.28 30.93 337.72 32.83 338.9 35.2 C340.08 37.57 340.98 40.35 342.2 43.4 C343.42 46.45 344.8 49.75 346.2 53.5 C347.6 57.25 349.13 62 350.6 65.9 C352.07 69.8 353.53 73.25 355 76.9 C356.47 80.55 357.95 84.17 359.4 87.8 C360.85 91.43 362.25 95.23 363.7 98.7 C365.15 102.17 366.63 105.5 368.1 108.6 C369.57 111.7 371.03 114.38 372.5 117.3 C373.97 120.22 375.45 123.18 376.9 126.1 C378.35 129.02 379.75 132.07 381.2 134.8 C382.65 137.53 384.07 140.03 385.6 142.5 C387.13 144.97 388.75 147.48 390.4 149.6 C392.05 151.72 393.78 153.48 395.5 155.2 C397.22 156.92 398.98 158.55 400.7 159.9 C402.42 161.25 404.1 162.28 405.8 163.3 C407.5 164.32 408.35 165.13 410.9 166 C413.45 166.87 416.62 167.73 421.1 168.5 C425.58 169.27 435.02 170.25 437.8 170.6" stroke="#f23a3a" stroke-width="1.1" fill="none"/>
<line x1="397.3" y1="40.7" x2="414.8" y2="40.7" stroke="#f23a3a" stroke-width="1.1"/>
<text x="418.5" y="43.4" font-size="9" font-weight="normal" font-style="normal" text-anchor="start" fill="#111">99</text>
<line x1="397.3" y1="50.74" x2="414.8" y2="50.74" stroke="#9aa040" stroke-width="1.1"/>
<text x="418.5" y="53.44" font-size="9" font-weight="normal" font-style="normal" text-anchor="start" fill="#111">90</text>
<line x1="397.3" y1="60.78" x2="414.8" y2="60.78" stroke="#a04848" stroke-width="1.1"/>
<text x="418.5" y="63.48" font-size="9" font-weight="normal" font-style="normal" text-anchor="start" fill="#111">80</text>
<line x1="397.3" y1="70.82" x2="414.8" y2="70.82" stroke="#9040b0" stroke-width="1.1"/>
<text x="418.5" y="73.52" font-size="9" font-weight="normal" font-style="normal" text-anchor="start" fill="#111">70</text>
<line x1="397.3" y1="80.86" x2="414.8" y2="80.86" stroke="#8a3cff" stroke-width="1.1"/>
<text x="418.5" y="83.56" font-size="9" font-weight="normal" font-style="normal" text-anchor="start" fill="#111">60</text>
<line x1="397.3" y1="90.9" x2="414.8" y2="90.9" stroke="#3434a8" stroke-width="1.1"/>
<text x="418.5" y="93.6" font-size="9" font-weight="normal" font-style="normal" text-anchor="start" fill="#111">50</text>
<line x1="397.3" y1="100.94" x2="414.8" y2="100.94" stroke="#40a040" stroke-width="1.1"/>
<text x="418.5" y="103.64" font-size="9" font-weight="normal" font-style="normal" text-anchor="start" fill="#111">40</text>
<line x1="397.3" y1="110.98" x2="414.8" y2="110.98" stroke="#ff50ff" stroke-width="1.1"/>
<text x="418.5" y="113.68" font-size="9" font-weight="normal" font-style="normal" text-anchor="start" fill="#111">30</text>
<line x1="397.3" y1="121.02" x2="414.8" y2="121.02" stroke="#3050ff" stroke-width="1.1"/>
<text x="418.5" y="123.72" font-size="9" font-weight="normal" font-style="normal" text-anchor="start" fill="#111">20</text>
<line x1="397.3" y1="131.06" x2="414.8" y2="131.06" stroke="#ff9a40" stroke-width="1.1"/>
<text x="418.5" y="133.76" font-size="9" font-weight="normal" font-style="normal" text-anchor="start" fill="#111">10</text>
<line x1="397.3" y1="141.1" x2="414.8" y2="141.1" stroke="#303030" stroke-width="1.1"/>
<text x="419.3" y="143.8" font-size="9" font-weight="normal" font-style="normal" text-anchor="start" fill="#111">0</text>
<text x="396.6" y="30.6" font-size="9.2" fill="#111"><tspan font-style="italic">f</tspan><tspan font-size="7" dy="2" font-style="italic">W</tspan><tspan dy="-2"> (vol%)</tspan></text>
<rect x="514.6" y="11.6" width="163.1" height="163.4" fill="none" stroke="#4a4a4a" stroke-width="1"/>
<line x1="512.1" y1="168.5" x2="514.6" y2="168.5" stroke="#4a4a4a" stroke-width="1"/>
<line x1="512.1" y1="137.12" x2="514.6" y2="137.12" stroke="#4a4a4a" stroke-width="1"/>
<line x1="512.1" y1="105.74" x2="514.6" y2="105.74" stroke="#4a4a4a" stroke-width="1"/>
<line x1="512.1" y1="74.36" x2="514.6" y2="74.36" stroke="#4a4a4a" stroke-width="1"/>
<line x1="512.1" y1="42.98" x2="514.6" y2="42.98" stroke="#4a4a4a" stroke-width="1"/>
<line x1="512.1" y1="11.6" x2="514.6" y2="11.6" stroke="#4a4a4a" stroke-width="1"/>
<line x1="513.1" y1="152.81" x2="514.6" y2="152.81" stroke="#4a4a4a" stroke-width="1"/>
<line x1="513.1" y1="121.43" x2="514.6" y2="121.43" stroke="#4a4a4a" stroke-width="1"/>
<line x1="513.1" y1="90.05" x2="514.6" y2="90.05" stroke="#4a4a4a" stroke-width="1"/>
<line x1="513.1" y1="58.67" x2="514.6" y2="58.67" stroke="#4a4a4a" stroke-width="1"/>
<line x1="513.1" y1="27.29" x2="514.6" y2="27.29" stroke="#4a4a4a" stroke-width="1"/>
<line x1="522.1" y1="175" x2="522.1" y2="178" stroke="#4a4a4a" stroke-width="1"/>
<line x1="551.86" y1="175" x2="551.86" y2="178" stroke="#4a4a4a" stroke-width="1"/>
<line x1="581.62" y1="175" x2="581.62" y2="178" stroke="#4a4a4a" stroke-width="1"/>
<line x1="611.38" y1="175" x2="611.38" y2="178" stroke="#4a4a4a" stroke-width="1"/>
<line x1="641.14" y1="175" x2="641.14" y2="178" stroke="#4a4a4a" stroke-width="1"/>
<line x1="670.9" y1="175" x2="670.9" y2="178" stroke="#4a4a4a" stroke-width="1"/>
<line x1="536.98" y1="175" x2="536.98" y2="177" stroke="#4a4a4a" stroke-width="1"/>
<line x1="566.74" y1="175" x2="566.74" y2="177" stroke="#4a4a4a" stroke-width="1"/>
<line x1="596.5" y1="175" x2="596.5" y2="177" stroke="#4a4a4a" stroke-width="1"/>
<line x1="626.26" y1="175" x2="626.26" y2="177" stroke="#4a4a4a" stroke-width="1"/>
<line x1="656.02" y1="175" x2="656.02" y2="177" stroke="#4a4a4a" stroke-width="1"/>
<text x="510.3" y="171.2" font-size="9" font-weight="normal" font-style="normal" text-anchor="end" fill="#111">0</text>
<text x="510.3" y="139.82" font-size="9" font-weight="normal" font-style="normal" text-anchor="end" fill="#111">50</text>
<text x="510.3" y="108.44" font-size="9" font-weight="normal" font-style="normal" text-anchor="end" fill="#111">100</text>
<text x="510.3" y="77.06" font-size="9" font-weight="normal" font-style="normal" text-anchor="end" fill="#111">150</text>
<text x="510.3" y="45.68" font-size="9" font-weight="normal" font-style="normal" text-anchor="end" fill="#111">200</text>
<text x="510.3" y="14.3" font-size="9" font-weight="normal" font-style="normal" text-anchor="end" fill="#111">250</text>
<text x="522.1" y="186.2" font-size="9" font-weight="normal" font-style="normal" text-anchor="middle" fill="#111">0</text>
<text x="551.86" y="186.2" font-size="9" font-weight="normal" font-style="normal" text-anchor="middle" fill="#111">20</text>
<text x="581.62" y="186.2" font-size="9" font-weight="normal" font-style="normal" text-anchor="middle" fill="#111">40</text>
<text x="611.38" y="186.2" font-size="9" font-weight="normal" font-style="normal" text-anchor="middle" fill="#111">60</text>
<text x="641.14" y="186.2" font-size="9" font-weight="normal" font-style="normal" text-anchor="middle" fill="#111">80</text>
<text x="670.9" y="186.2" font-size="9" font-weight="normal" font-style="normal" text-anchor="middle" fill="#111">100</text>
<text x="597.5" y="200.8" font-size="10" font-weight="bold" text-anchor="middle" fill="#111"><tspan font-style="italic">f</tspan><tspan font-size="7" dy="2">w</tspan><tspan dy="-2"> (vol%)</tspan></text>
<text x="0" y="0" font-size="10" font-weight="bold" font-style="italic" text-anchor="middle" fill="#111" transform="translate(491,93.2) rotate(-90)">I/I<tspan font-size="7" dy="2">0</tspan></text>
<path d="M522.1 168.19 L536.98 168.19 L551.86 168.25 L566.74 168.19 L581.62 168.25 L596.5 168.12 L611.38 168.12 L626.26 168.25 L641.14 165.99 L656.02 73.1 L669.41 34.82" stroke="#f23a3a" stroke-width="1.1" fill="none"/>
<circle cx="522.1" cy="168.19" r="2.7" fill="#f51c1c"/>
<circle cx="536.98" cy="168.19" r="2.7" fill="#f51c1c"/>
<circle cx="551.86" cy="168.25" r="2.7" fill="#f51c1c"/>
<circle cx="566.74" cy="168.19" r="2.7" fill="#f51c1c"/>
<circle cx="581.62" cy="168.25" r="2.7" fill="#f51c1c"/>
<circle cx="596.5" cy="168.12" r="2.7" fill="#f51c1c"/>
<circle cx="611.38" cy="168.12" r="2.7" fill="#f51c1c"/>
<circle cx="626.26" cy="168.25" r="2.7" fill="#f51c1c"/>
<circle cx="641.14" cy="165.99" r="2.7" fill="#f51c1c"/>
<circle cx="656.02" cy="73.1" r="2.7" fill="#f51c1c"/>
<circle cx="669.41" cy="34.82" r="2.7" fill="#f51c1c"/>
<circle cx="522.1" cy="168.19" r="5.7" fill="none" stroke="#e070f0" stroke-width="0.8" stroke-dasharray="1.2 1"/>
<circle cx="669.41" cy="34.82" r="5.7" fill="none" stroke="#e070f0" stroke-width="0.8" stroke-dasharray="1.2 1"/>
<line x1="532.8" y1="33.6" x2="552.2" y2="33.6" stroke="#f23a3a" stroke-width="1.1"/>
<circle cx="542.5" cy="33.6" r="3" fill="#f02828"/>
<text x="555.4" y="36.3" font-size="9" font-weight="bold" font-style="normal" text-anchor="start" fill="#111">3aa</text>
<rect x="617.7" y="39" width="15" height="46.7" fill="#a8cc22" stroke="none" stroke-width="1"/>
<rect x="618.6" y="40" width="13.2" height="44.8" fill="#d2ee3a" stroke="none" stroke-width="1"/>
<rect x="621" y="56" width="8" height="26" fill="#dcf55a" stroke="none" stroke-width="1" opacity="0.7"/>
<path d="M617.7 39 L632.7 39 L632.7 52 Q625.2 55.5 617.7 52 Z" fill="#080a06"/>
<path d="M618.2 53.2 Q625.2 56.2 632.2 53.2" stroke="#f4fbe0" stroke-width="0.9" fill="none"/>
<rect x="547.1" y="106.1" width="15.9" height="47.6" fill="#0b1430" stroke="none" stroke-width="1"/>
<path d="M547.1 106.1 L563 106.1 L563 121 Q555 124.5 547.1 121 Z" fill="#03050a"/>
<path d="M547.8 122 Q555 124.8 562.3 121.5" stroke="#8a9a78" stroke-width="0.7" fill="none"/>
<line x1="547.5" y1="153" x2="562.6" y2="153" stroke="#3a5030" stroke-width="0.8"/>
<text x="554" y="100.6" font-size="7" font-weight="normal" font-style="normal" text-anchor="middle" fill="#222">THF</text>
<line x1="526" y1="163.5" x2="542" y2="143.5" stroke="#e060f0" stroke-width="0.9" stroke-dasharray="2 1.5"/>
<path d="M544.8 139.2 L539.8 142.4 L543.3 145 Z" fill="#e060f0"/>
<line x1="664.5" y1="36.8" x2="639.5" y2="48.3" stroke="#e060f0" stroke-width="0.9" stroke-dasharray="2 1.5"/>
<path d="M635.5 50.4 L640.5 45.8 L641.2 50.3 Z" fill="#e060f0"/>
<line x1="273.2" y1="221.5" x2="678.5" y2="221.5" stroke="#7a7a7a" stroke-width="1"/>
<line x1="678.5" y1="221.5" x2="678.5" y2="387" stroke="#7a7a7a" stroke-width="1.1"/>
<line x1="273.2" y1="387" x2="678.5" y2="387" stroke="#8a8a8a" stroke-width="1"/>
<line x1="278.9" y1="221.5" x2="278.9" y2="387" stroke="#c4c4c4" stroke-width="1.6"/>
<line x1="273.4" y1="331.83" x2="278.9" y2="331.83" stroke="#888" stroke-width="1"/>
<line x1="273.4" y1="276.66" x2="278.9" y2="276.66" stroke="#888" stroke-width="1"/>
<line x1="276.6" y1="368.61" x2="278.9" y2="368.61" stroke="#888" stroke-width="1"/>
<line x1="276.6" y1="350.22" x2="278.9" y2="350.22" stroke="#888" stroke-width="1"/>
<line x1="276.6" y1="313.44" x2="278.9" y2="313.44" stroke="#888" stroke-width="1"/>
<line x1="276.6" y1="295.05" x2="278.9" y2="295.05" stroke="#888" stroke-width="1"/>
<line x1="276.6" y1="258.27" x2="278.9" y2="258.27" stroke="#888" stroke-width="1"/>
<line x1="276.6" y1="239.88" x2="278.9" y2="239.88" stroke="#888" stroke-width="1"/>
<text x="268.5" y="389.7" font-size="9" font-weight="normal" font-style="normal" text-anchor="end" fill="#111">0</text>
<text x="268.5" y="334.53" font-size="9" font-weight="normal" font-style="normal" text-anchor="end" fill="#111">3</text>
<text x="268.5" y="279.36" font-size="9" font-weight="normal" font-style="normal" text-anchor="end" fill="#111">6</text>
<text x="268.5" y="224.19" font-size="9" font-weight="normal" font-style="normal" text-anchor="end" fill="#111">9</text>
<rect x="296.8" y="329.99" width="21" height="57.01" fill="url(#barg)" stroke="none" stroke-width="1"/>
<text x="306.5" y="410.82" font-size="9.4" font-weight="bold" font-style="normal" text-anchor="middle" fill="#111">3aa</text>
<rect x="354" y="338.08" width="21" height="48.92" fill="url(#barg)" stroke="none" stroke-width="1"/>
<text x="364.5" y="410.82" font-size="9.4" font-weight="bold" font-style="normal" text-anchor="middle" fill="#111">3ac</text>
<rect x="410.8" y="350.59" width="21" height="36.41" fill="url(#barg)" stroke="none" stroke-width="1"/>
<text x="421.2" y="410.82" font-size="9.4" font-weight="bold" font-style="normal" text-anchor="middle" fill="#111">4ad</text>
<rect x="468.2" y="253.49" width="21" height="133.51" fill="url(#barg)" stroke="none" stroke-width="1"/>
<text x="480.7" y="410.82" font-size="9.4" font-weight="bold" font-style="normal" text-anchor="middle" fill="#111">5aa2</text>
<rect x="525" y="295.05" width="21" height="91.95" fill="url(#barg)" stroke="none" stroke-width="1"/>
<text x="536.5" y="410.82" font-size="9.4" font-weight="bold" font-style="normal" text-anchor="middle" fill="#111">3ba</text>
<rect x="582.2" y="366.22" width="21" height="20.78" fill="url(#barg)" stroke="none" stroke-width="1"/>
<text x="594" y="412.12" font-size="9.4" font-weight="bold" font-style="normal" text-anchor="middle" fill="#111">3ea</text>
<text x="652.2" y="410.82" font-size="9.4" font-weight="bold" font-style="normal" text-anchor="middle" fill="#111">Model-1</text>
<rect x="640.7" y="382.8" width="19.7" height="2" fill="#f0a8d8" stroke="none" stroke-width="1"/>
<line x1="279.5" y1="368.3" x2="607.8" y2="368.3" stroke="#999" stroke-width="0.8" stroke-dasharray="3.5 2.5"/>
<path d="M490.2 368.3 L537.9 260.4 L598 260.4" stroke="#999" stroke-width="0.8" fill="none" stroke-dasharray="3 2.5"/>
<text x="314.5" y="253" font-size="8.9" fill="#111"><tspan font-style="italic" font-family="Liberation Serif" font-size="9.5">α</tspan><tspan font-size="5.5" dy="1.5">AIE</tspan><tspan dy="-1.5"> = </tspan><tspan font-style="italic">ϕ</tspan><tspan> (</tspan><tspan font-style="italic">f</tspan><tspan font-size="5.5" dy="1.5">w</tspan><tspan dy="-1.5"> = 99%) / </tspan><tspan font-style="italic">ϕ</tspan><tspan> (</tspan><tspan font-style="italic">f</tspan><tspan font-size="5.5" dy="1.5">w</tspan><tspan dy="-1.5"> = 0%)</tspan></text>
<text x="546" y="256.5" font-size="9" fill="#f02828"><tspan font-style="italic" font-family="Liberation Serif" font-size="9.5">α</tspan><tspan font-size="5.5" dy="1.5">AIE</tspan><tspan dy="-1.5"> &gt; 1000</tspan></text>
<text x="634.8" y="377.9" font-size="8.6" fill="#111"><tspan font-style="italic" font-family="Liberation Serif" font-size="9">α</tspan><tspan font-size="5.5" dy="1.5">AIE</tspan><tspan dy="-1.5"> &lt; 0.1</tspan></text>
<text x="0" y="0" font-size="10.5" fill="#111" text-anchor="middle" transform="translate(254.5,304) rotate(-90)"><tspan font-family="Liberation Serif" font-size="13.5">α</tspan><tspan font-size="7" dy="2.5" font-weight="bold">AIE</tspan><tspan dy="-2.5" font-weight="bold">(10</tspan><tspan font-size="7" dy="-4.5" font-weight="bold">3</tspan><tspan dy="4.5" font-weight="bold">)</tspan></text>
<rect x="281" y="675.1" width="162.9" height="162.9" fill="none" stroke="#4a4a4a" stroke-width="1"/>
<line x1="278" y1="825.4" x2="281" y2="825.4" stroke="#4a4a4a" stroke-width="1"/>
<line x1="278" y1="802.2" x2="281" y2="802.2" stroke="#4a4a4a" stroke-width="1"/>
<line x1="278" y1="779" x2="281" y2="779" stroke="#4a4a4a" stroke-width="1"/>
<line x1="278" y1="755.8" x2="281" y2="755.8" stroke="#4a4a4a" stroke-width="1"/>
<line x1="278" y1="732.6" x2="281" y2="732.6" stroke="#4a4a4a" stroke-width="1"/>
<line x1="278" y1="709.4" x2="281" y2="709.4" stroke="#4a4a4a" stroke-width="1"/>
<line x1="278" y1="686.2" x2="281" y2="686.2" stroke="#4a4a4a" stroke-width="1"/>
<line x1="279" y1="813.8" x2="281" y2="813.8" stroke="#4a4a4a" stroke-width="1"/>
<line x1="279" y1="790.6" x2="281" y2="790.6" stroke="#4a4a4a" stroke-width="1"/>
<line x1="279" y1="767.4" x2="281" y2="767.4" stroke="#4a4a4a" stroke-width="1"/>
<line x1="279" y1="744.2" x2="281" y2="744.2" stroke="#4a4a4a" stroke-width="1"/>
<line x1="279" y1="721" x2="281" y2="721" stroke="#4a4a4a" stroke-width="1"/>
<line x1="279" y1="697.8" x2="281" y2="697.8" stroke="#4a4a4a" stroke-width="1"/>
<line x1="281" y1="838" x2="281" y2="841" stroke="#4a4a4a" stroke-width="1"/>
<line x1="308.15" y1="838" x2="308.15" y2="841" stroke="#4a4a4a" stroke-width="1"/>
<line x1="335.3" y1="838" x2="335.3" y2="841" stroke="#4a4a4a" stroke-width="1"/>
<line x1="362.45" y1="838" x2="362.45" y2="841" stroke="#4a4a4a" stroke-width="1"/>
<line x1="389.6" y1="838" x2="389.6" y2="841" stroke="#4a4a4a" stroke-width="1"/>
<line x1="416.75" y1="838" x2="416.75" y2="841" stroke="#4a4a4a" stroke-width="1"/>
<line x1="443.9" y1="838" x2="443.9" y2="841" stroke="#4a4a4a" stroke-width="1"/>
<line x1="294.57" y1="838" x2="294.57" y2="840" stroke="#4a4a4a" stroke-width="1"/>
<line x1="321.73" y1="838" x2="321.73" y2="840" stroke="#4a4a4a" stroke-width="1"/>
<line x1="348.88" y1="838" x2="348.88" y2="840" stroke="#4a4a4a" stroke-width="1"/>
<line x1="376.02" y1="838" x2="376.02" y2="840" stroke="#4a4a4a" stroke-width="1"/>
<line x1="403.18" y1="838" x2="403.18" y2="840" stroke="#4a4a4a" stroke-width="1"/>
<line x1="430.32" y1="838" x2="430.32" y2="840" stroke="#4a4a4a" stroke-width="1"/>
<text x="276" y="828.1" font-size="9" font-weight="normal" font-style="normal" text-anchor="end" fill="#111">-30</text>
<text x="276" y="804.9" font-size="9" font-weight="normal" font-style="normal" text-anchor="end" fill="#111">-20</text>
<text x="276" y="781.7" font-size="9" font-weight="normal" font-style="normal" text-anchor="end" fill="#111">-10</text>
<text x="276" y="758.5" font-size="9" font-weight="normal" font-style="normal" text-anchor="end" fill="#111">0</text>
<text x="276" y="735.3" font-size="9" font-weight="normal" font-style="normal" text-anchor="end" fill="#111">10</text>
<text x="276" y="712.1" font-size="9" font-weight="normal" font-style="normal" text-anchor="end" fill="#111">20</text>
<text x="276" y="688.9" font-size="9" font-weight="normal" font-style="normal" text-anchor="end" fill="#111">30</text>
<text x="281" y="848.1" font-size="9" font-weight="normal" font-style="normal" text-anchor="middle" fill="#111">225</text>
<text x="308.15" y="848.1" font-size="9" font-weight="normal" font-style="normal" text-anchor="middle" fill="#111">275</text>
<text x="335.3" y="848.1" font-size="9" font-weight="normal" font-style="normal" text-anchor="middle" fill="#111">325</text>
<text x="362.45" y="848.1" font-size="9" font-weight="normal" font-style="normal" text-anchor="middle" fill="#111">375</text>
<text x="389.6" y="848.1" font-size="9" font-weight="normal" font-style="normal" text-anchor="middle" fill="#111">425</text>
<text x="416.75" y="848.1" font-size="9" font-weight="normal" font-style="normal" text-anchor="middle" fill="#111">475</text>
<text x="443.9" y="848.1" font-size="9" font-weight="normal" font-style="normal" text-anchor="middle" fill="#111">525</text>
<text x="362.2" y="862.2" font-size="10" font-weight="bold" font-style="normal" text-anchor="middle" fill="#111">Wavelength (nm)</text>
<text x="255.2" y="758.7" font-size="10" font-weight="bold" font-style="normal" text-anchor="middle" fill="#111" transform="rotate(-90 255.2 755.7)">CD (mdeg)</text>
<path d="M281.5 751.3 C281.78 750.22 282.65 746.28 283.2 744.8 C283.75 743.32 284.32 743.25 284.8 742.4 C285.28 741.55 285.67 739.17 286.1 739.7 C286.53 740.23 286.92 743.13 287.4 745.6 C287.88 748.07 288.42 752.07 289 754.5 C289.58 756.93 290.27 759.67 290.9 760.2 C291.53 760.73 292.13 760.27 292.8 757.7 C293.47 755.13 294.13 749.63 294.9 744.8 C295.67 739.97 296.45 733.53 297.4 728.7 C298.35 723.87 299.67 718.35 300.6 715.8 C301.53 713.25 302.2 713.27 303 713.4 C303.8 713.53 304.6 714.85 305.4 716.6 C306.2 718.35 306.98 721.75 307.8 723.9 C308.62 726.05 309.35 727.75 310.3 729.5 C311.25 731.25 312.43 732.38 313.5 734.4 C314.57 736.42 315.5 739.18 316.7 741.6 C317.9 744.02 319.35 747.15 320.7 748.9 C322.05 750.65 323.45 751.17 324.8 752.1 C326.15 753.03 327.18 753.02 328.8 754.5 C330.42 755.98 332.48 758.32 334.5 761 C336.52 763.68 338.75 767.65 340.9 770.6 C343.05 773.55 345.38 776.95 347.4 778.7 C349.42 780.45 351.13 780.97 353 781.1 C354.87 781.23 356.58 780.7 358.6 779.5 C360.62 778.3 362.95 776.05 365.1 773.9 C367.25 771.75 369.35 768.75 371.5 766.6 C373.65 764.45 375.75 762.52 378 761 C380.25 759.48 382.67 758.33 385 757.5 C387.33 756.67 389.5 756.3 392 756 C394.5 755.7 395.33 755.77 400 755.7 C404.67 755.63 412.75 755.62 420 755.6 C427.25 755.58 439.58 755.6 443.5 755.6" stroke="#f23a3a" stroke-width="1.1" fill="none"/>
<path d="M281.5 740.8 C281.72 743.08 282.37 750.07 282.8 754.5 C283.23 758.93 283.63 763.42 284.1 767.4 C284.57 771.38 285.05 778.4 285.6 778.4 C286.15 778.4 286.83 772.18 287.4 767.4 C287.97 762.62 288.47 753.87 289 749.7 C289.53 745.53 290.02 742.67 290.6 742.4 C291.18 742.13 291.92 745 292.5 748.1 C293.08 751.2 293.43 755.63 294.1 761 C294.77 766.37 295.68 773.85 296.5 780.3 C297.32 786.75 298.18 794.05 299 799.7 C299.82 805.35 300.65 811.12 301.4 814.2 C302.15 817.28 302.83 817.93 303.5 818.2 C304.17 818.47 304.68 818.08 305.4 815.8 C306.12 813.52 306.98 808.53 307.8 804.5 C308.62 800.47 309.35 795.9 310.3 791.6 C311.25 787.3 312.3 783 313.5 778.7 C314.7 774.4 316.17 769.17 317.5 765.8 C318.83 762.43 320.02 760.25 321.5 758.5 C322.98 756.75 324.78 756.37 326.4 755.3 C328.02 754.23 329.58 754.12 331.2 752.1 C332.82 750.08 334.48 746.57 336.1 743.2 C337.72 739.83 339.3 735.38 340.9 731.9 C342.5 728.42 343.68 725.03 345.7 722.3 C347.72 719.57 350.85 716.18 353 715.5 C355.15 714.82 356.58 716.27 358.6 718.2 C360.62 720.13 362.95 723.73 365.1 727.1 C367.25 730.47 369.35 735.03 371.5 738.4 C373.65 741.77 375.75 744.9 378 747.3 C380.25 749.7 382.67 751.52 385 752.8 C387.33 754.08 389.5 754.55 392 755 C394.5 755.45 395.33 755.43 400 755.5 C404.67 755.57 412.75 755.42 420 755.4 C427.25 755.38 439.58 755.4 443.5 755.4" stroke="#4a74b0" stroke-width="1.1" fill="none"/>
<line x1="385.2" y1="697.1" x2="403.9" y2="697.1" stroke="#f23a3a" stroke-width="1.2"/>
<line x1="385.2" y1="714.6" x2="403.9" y2="714.6" stroke="#4a74b0" stroke-width="1.2"/>
<text x="406.8" y="700.3" font-size="9" font-weight="bold" fill="#111">3aa-<tspan font-style="italic">R</tspan><tspan font-size="6.5" dy="2" font-style="italic">p</tspan></text>
<text x="406.8" y="717.8" font-size="9" font-weight="bold" fill="#111">3aa-<tspan font-style="italic">S</tspan><tspan font-size="6.5" dy="2" font-style="italic">p</tspan></text>
<rect x="514.4" y="675.8" width="162.9" height="163.2" fill="none" stroke="#4a4a4a" stroke-width="1"/>
<line x1="511.4" y1="839.1" x2="514.4" y2="839.1" stroke="#4a4a4a" stroke-width="1"/>
<line x1="511.4" y1="820.9" x2="514.4" y2="820.9" stroke="#4a4a4a" stroke-width="1"/>
<line x1="511.4" y1="802.7" x2="514.4" y2="802.7" stroke="#4a4a4a" stroke-width="1"/>
<line x1="511.4" y1="784.5" x2="514.4" y2="784.5" stroke="#4a4a4a" stroke-width="1"/>
<line x1="511.4" y1="766.3" x2="514.4" y2="766.3" stroke="#4a4a4a" stroke-width="1"/>
<line x1="511.4" y1="748.1" x2="514.4" y2="748.1" stroke="#4a4a4a" stroke-width="1"/>
<line x1="511.4" y1="729.9" x2="514.4" y2="729.9" stroke="#4a4a4a" stroke-width="1"/>
<line x1="511.4" y1="711.7" x2="514.4" y2="711.7" stroke="#4a4a4a" stroke-width="1"/>
<line x1="511.4" y1="693.5" x2="514.4" y2="693.5" stroke="#4a4a4a" stroke-width="1"/>
<line x1="511.4" y1="675.3" x2="514.4" y2="675.3" stroke="#4a4a4a" stroke-width="1"/>
<line x1="512.4" y1="830" x2="514.4" y2="830" stroke="#4a4a4a" stroke-width="1"/>
<line x1="512.4" y1="811.8" x2="514.4" y2="811.8" stroke="#4a4a4a" stroke-width="1"/>
<line x1="512.4" y1="793.6" x2="514.4" y2="793.6" stroke="#4a4a4a" stroke-width="1"/>
<line x1="512.4" y1="775.4" x2="514.4" y2="775.4" stroke="#4a4a4a" stroke-width="1"/>
<line x1="512.4" y1="757.2" x2="514.4" y2="757.2" stroke="#4a4a4a" stroke-width="1"/>
<line x1="512.4" y1="739" x2="514.4" y2="739" stroke="#4a4a4a" stroke-width="1"/>
<line x1="512.4" y1="720.8" x2="514.4" y2="720.8" stroke="#4a4a4a" stroke-width="1"/>
<line x1="512.4" y1="702.6" x2="514.4" y2="702.6" stroke="#4a4a4a" stroke-width="1"/>
<line x1="512.4" y1="684.4" x2="514.4" y2="684.4" stroke="#4a4a4a" stroke-width="1"/>
<line x1="514.4" y1="839" x2="514.4" y2="842" stroke="#4a4a4a" stroke-width="1"/>
<line x1="546.98" y1="839" x2="546.98" y2="842" stroke="#4a4a4a" stroke-width="1"/>
<line x1="579.56" y1="839" x2="579.56" y2="842" stroke="#4a4a4a" stroke-width="1"/>
<line x1="612.14" y1="839" x2="612.14" y2="842" stroke="#4a4a4a" stroke-width="1"/>
<line x1="644.72" y1="839" x2="644.72" y2="842" stroke="#4a4a4a" stroke-width="1"/>
<line x1="677.3" y1="839" x2="677.3" y2="842" stroke="#4a4a4a" stroke-width="1"/>
<line x1="530.69" y1="839" x2="530.69" y2="841" stroke="#4a4a4a" stroke-width="1"/>
<line x1="563.27" y1="839" x2="563.27" y2="841" stroke="#4a4a4a" stroke-width="1"/>
<line x1="595.85" y1="839" x2="595.85" y2="841" stroke="#4a4a4a" stroke-width="1"/>
<line x1="628.43" y1="839" x2="628.43" y2="841" stroke="#4a4a4a" stroke-width="1"/>
<line x1="661.01" y1="839" x2="661.01" y2="841" stroke="#4a4a4a" stroke-width="1"/>
<text x="509.5" y="841.8" font-size="9" font-weight="normal" font-style="normal" text-anchor="end" fill="#111">-15</text>
<text x="509.5" y="823.6" font-size="9" font-weight="normal" font-style="normal" text-anchor="end" fill="#111">-10</text>
<text x="509.5" y="805.4" font-size="9" font-weight="normal" font-style="normal" text-anchor="end" fill="#111">-5</text>
<text x="509.5" y="787.2" font-size="9" font-weight="normal" font-style="normal" text-anchor="end" fill="#111">0</text>
<text x="509.5" y="769" font-size="9" font-weight="normal" font-style="normal" text-anchor="end" fill="#111">5</text>
<text x="509.5" y="750.8" font-size="9" font-weight="normal" font-style="normal" text-anchor="end" fill="#111">10</text>
<text x="509.5" y="732.6" font-size="9" font-weight="normal" font-style="normal" text-anchor="end" fill="#111">15</text>
<text x="509.5" y="714.4" font-size="9" font-weight="normal" font-style="normal" text-anchor="end" fill="#111">20</text>
<text x="509.5" y="696.2" font-size="9" font-weight="normal" font-style="normal" text-anchor="end" fill="#111">25</text>
<text x="509.5" y="678" font-size="9" font-weight="normal" font-style="normal" text-anchor="end" fill="#111">30</text>
<text x="514.4" y="850.8" font-size="9" font-weight="normal" font-style="normal" text-anchor="middle" fill="#111">450</text>
<text x="546.98" y="850.8" font-size="9" font-weight="normal" font-style="normal" text-anchor="middle" fill="#111">500</text>
<text x="579.56" y="850.8" font-size="9" font-weight="normal" font-style="normal" text-anchor="middle" fill="#111">550</text>
<text x="612.14" y="850.8" font-size="9" font-weight="normal" font-style="normal" text-anchor="middle" fill="#111">600</text>
<text x="644.72" y="850.8" font-size="9" font-weight="normal" font-style="normal" text-anchor="middle" fill="#111">650</text>
<text x="677.3" y="850.8" font-size="9" font-weight="normal" font-style="normal" text-anchor="middle" fill="#111">700</text>
<text x="595.5" y="863.5" font-size="10" font-weight="bold" font-style="normal" text-anchor="middle" fill="#111">Wavelength (nm)</text>
<text x="490.3" y="762.1" font-size="10" font-weight="bold" font-style="normal" text-anchor="middle" fill="#111" transform="rotate(-90 490.3 759.1)">CPL (mdeg)</text>
<path d="M514.4 774.5 L514.93 774.31 L515.47 774.13 L516 775.3 L516.53 777.28 L517.07 777.4 L517.6 780.1 L518.16 780.99 L518.74 781.36 L519.3 782.5 L519.83 780.56 L520.37 780.91 L520.9 780.1 L521.69 776.75 L522.51 775.57 L523.3 773.6 L524.09 769.84 L524.91 767.18 L525.7 765.6 L526.23 763.26 L526.77 762.09 L527.3 759.1 L528.09 757.07 L528.91 756.24 L529.7 755.9 L530.23 755.18 L530.77 754.92 L531.3 752.7 L531.86 750.23 L532.44 747 L533 744.6 L533.53 743.2 L534.07 738.06 L534.6 736.6 L535.13 739.12 L535.67 739.27 L536.2 741.4 L536.99 739.42 L537.81 738.26 L538.6 738.2 L539.39 735.56 L540.21 734.67 L541 731.7 L541.79 729.81 L542.61 729.77 L543.4 728.5 L543.93 726.75 L544.47 723.88 L545 722.1 L545.56 723.28 L546.14 723.11 L546.7 725.3 L547.23 720.43 L547.77 716.96 L548.3 714 L548.83 713.94 L549.37 712.74 L549.9 712.4 L550.26 709.51 L550.64 707.73 L551 705.1 L551.43 708.71 L551.87 712.15 L552.3 716.4 L552.83 713.73 L553.37 709.95 L553.9 706 L554.43 706.65 L554.97 708.87 L555.5 710 L555.93 706.86 L556.37 704.48 L556.8 700.3 L557.43 700.37 L558.07 698.68 L558.7 698.7 L559.26 699.16 L559.84 696.1 L560.4 696.3 L560.93 697.41 L561.47 699.65 L562 700.3 L562.53 696.76 L563.07 694.91 L563.6 692.3 L564.23 690.54 L564.87 691.6 L565.5 690.6 L566.09 690.4 L566.71 688.98 L567.3 687.9 L567.93 691.12 L568.57 691.97 L569.2 694.7 L569.73 697.32 L570.27 699.23 L570.8 701.1 L571.49 704.77 L572.21 708.02 L572.9 711.6 L573.56 707.43 L574.24 702.51 L574.9 696.3 L575.69 693.99 L576.51 692.17 L577.3 689.5 L577.99 692.71 L578.71 698.87 L579.4 702.7 L580.03 702.55 L580.67 702.91 L581.3 701.1 L582.19 706.72 L583.11 710.25 L584 715.6 L584.69 711.57 L585.41 708.47 L586.1 704.3 L586.76 698.54 L587.44 695.02 L588.1 690.6 L588.63 694.26 L589.17 698.78 L589.7 704.3 L590.29 707.94 L590.91 714.71 L591.5 718.8 L592.13 715.72 L592.77 713.86 L593.4 712.4 L594.19 709.18 L595.01 707.4 L595.8 703.5 L596.43 704.82 L597.07 708.26 L597.7 710.8 L598.13 711.46 L598.57 712.87 L599 712.4 L599.79 715.64 L600.61 718.24 L601.4 719.7 L602.23 717.51 L603.07 716.2 L603.9 714.8 L604.69 714.7 L605.51 716.33 L606.3 715.6 L607.09 718.14 L607.91 717.44 L608.7 719.7 L609.23 720.44 L609.77 722.22 L610.3 724.5 L610.83 726.45 L611.37 729.82 L611.9 732.5 L612.69 734.35 L613.51 735.17 L614.3 737.4 L614.86 731.85 L615.44 728.55 L616 724.5 L616.79 727.36 L617.61 731.17 L618.4 734.2 L618.93 737.75 L619.47 739.52 L620 741.4 L620.79 738.5 L621.61 735.74 L622.4 732.5 L623.19 735.1 L624.01 735.7 L624.8 739 L625.59 743.77 L626.41 747.3 L627.2 750.3 L628.29 750.75 L629.41 750 L630.5 748.7 L631.56 747.33 L632.64 746.23 L633.7 745.4 L634.49 743.84 L635.31 744.68 L636.1 743.8 L637.16 743.72 L638.24 744.82 L639.3 747 L640.09 748.12 L640.91 749.94 L641.7 752.7 L642.53 754.96 L643.38 756.96 L644.2 760.8 L644.99 758.94 L645.81 758.75 L646.6 759.1 L647.66 755.69 L648.74 753.92 L649.8 751.9 L650.59 753.6 L651.41 758.84 L652.2 760.8 L652.99 763.74 L653.81 765.25 L654.6 768.8 L655.43 766.31 L656.27 764.65 L657.1 763.2 L657.89 764.17 L658.71 764.9 L659.5 767.2 L660.56 768.37 L661.64 769.02 L662.7 768 L663.76 769.5 L664.84 771.17 L665.9 772.8 L666.69 773.08 L667.51 774.51 L668.3 776.9 L669.39 775.14 L670.51 773.54 L671.6 772.8 L672.39 772.34 L673.21 769.24 L674 768.8 L675.06 770.23 L676.14 775.4 L677.2 776.9" stroke="#f23a3a" stroke-width="1.05" fill="none" stroke-linejoin="round"/>
<path d="M514.4 782.5 L515.19 782.82 L516.01 782.33 L516.8 783.3 L517.62 784.18 L518.47 783.96 L519.3 785.7 L520.09 785.23 L520.91 785.59 L521.7 784.1 L522.76 784.2 L523.84 783.22 L524.9 782.2 L525.69 782.88 L526.51 784.28 L527.3 785.7 L528.36 784.77 L529.44 785.71 L530.5 784.9 L531.33 786.32 L532.17 788.21 L533 789 L533.53 789.72 L534.07 790.59 L534.6 792.2 L535.39 791.21 L536.21 789.89 L537 787.3 L537.79 788.27 L538.61 788.45 L539.4 788.1 L540.19 790.62 L541.01 792.4 L541.8 793.8 L542.86 794.05 L543.94 795.44 L545 796.2 L545.83 796.7 L546.67 796.87 L547.5 798.6 L548.29 798.45 L549.11 799.77 L549.9 801 L550.43 797.88 L550.97 796.03 L551.5 793 L552.29 794.71 L553.11 794.5 L553.9 795.4 L554.69 798.68 L555.51 801.27 L556.3 802.7 L557.09 805.19 L557.91 805.65 L558.7 807.5 L559.53 804.8 L560.38 802.6 L561.2 801 L561.99 802.01 L562.81 803.69 L563.6 805.9 L564.66 810.41 L565.74 815.34 L566.8 818.8 L567.59 818.39 L568.41 816.55 L569.2 815.5 L569.89 813.17 L570.61 810.74 L571.3 807.5 L572.22 807.73 L573.18 809.97 L574.1 810.7 L575.16 814.19 L576.24 816.69 L577.3 818.8 L578.09 817.95 L578.91 816.01 L579.7 814.7 L580.76 815.41 L581.84 818.03 L582.9 818.8 L583.69 820.31 L584.51 823.15 L585.3 824.4 L586.12 822.97 L586.97 819.37 L587.8 817.2 L588.86 817.53 L589.94 819.17 L591 818.8 L592.06 818.72 L593.14 817.07 L594.2 817.2 L595.52 817.25 L596.88 818.11 L598.2 819.6 L599.26 819.62 L600.34 818.61 L601.4 817.2 L602.49 814.88 L603.61 814.57 L604.7 812.3 L605.76 812.73 L606.84 811.54 L607.9 810.7 L608.96 809.87 L610.04 809.73 L611.1 809.1 L611.89 808.63 L612.71 808.66 L613.5 809.9 L614.33 809.79 L615.17 808.06 L616 806.7 L617.06 807.55 L618.14 809.18 L619.2 809.1 L620.26 807.91 L621.34 807.7 L622.4 805.9 L623.46 807.08 L624.54 806.39 L625.6 807.5 L626.13 807.53 L626.67 808.16 L627.2 809.1 L628.03 806.73 L628.88 805.52 L629.7 803.5 L630.49 801.93 L631.31 801.13 L632.1 800.2 L632.89 800.29 L633.71 802.7 L634.5 802.7 L635.33 801.88 L636.17 801.54 L637 801.1 L637.76 802.32 L638.54 804.05 L639.3 804.3 L640.09 804.93 L640.91 806.74 L641.7 806.7 L642.53 804.29 L643.38 801.87 L644.2 799.4 L645.26 798.13 L646.34 795.76 L647.4 795.4 L648.46 796.6 L649.54 797.45 L650.6 799.4 L651.66 797.88 L652.74 798.93 L653.8 797.8 L654.59 798.76 L655.41 801.03 L656.2 802.7 L657.29 801.8 L658.41 800.07 L659.5 798.6 L660.56 797.99 L661.64 798.1 L662.7 797.8 L663.76 796.85 L664.84 796.22 L665.9 794.6 L666.96 793.02 L668.04 793.11 L669.1 792.2 L669.93 792.22 L670.77 792.83 L671.6 793.8 L672.39 795.14 L673.21 795.42 L674 796.2 L675.06 794.74 L676.14 793.5 L677.2 791.4" stroke="#4a74b0" stroke-width="1.05" fill="none" stroke-linejoin="round"/>
<line x1="621.9" y1="689.6" x2="639" y2="689.6" stroke="#f23a3a" stroke-width="1.2"/>
<line x1="621.9" y1="703.7" x2="639" y2="703.7" stroke="#4a74b0" stroke-width="1.2"/>
<text x="642.4" y="692.8" font-size="9" fill="#111">3aa-<tspan font-style="italic">R</tspan><tspan font-size="6.5" dy="2" font-style="italic">p</tspan></text>
<text x="642.4" y="706.9" font-size="9" fill="#111">3aa-<tspan font-style="italic">S</tspan><tspan font-size="6.5" dy="2" font-style="italic">p</tspan></text>
<rect x="15.2" y="436.2" width="662.1" height="214.6" fill="none" stroke="#78806f" stroke-width="1.15"/>
<text x="37.5" y="608.95" font-size="9.5" font-weight="bold" font-style="normal" text-anchor="start" fill="#111">CIE</text>
<text x="38.2" y="627.8" font-size="10.5" font-weight="bold" font-style="italic" fill="#111" font-family="Liberation Serif">Φ</text>
<text x="38.6" y="645.6" font-size="10" font-style="italic" fill="#111" font-family="Liberation Serif">λ<tspan font-size="6.8" dy="1.6" font-family="Liberation Sans" font-style="normal" font-weight="bold">em</tspan></text>
<text x="126" y="608.8" font-size="10" font-weight="normal" font-style="normal" text-anchor="middle" fill="#111">(0.23, 0.32)</text>
<text x="126" y="628.6" font-size="10" font-weight="normal" font-style="normal" text-anchor="middle" fill="#111">53.20%</text>
<text x="126" y="646.9" font-size="10" font-weight="normal" font-style="normal" text-anchor="middle" fill="#111">498 nm</text>
<text x="295" y="608.8" font-size="10" font-weight="normal" font-style="normal" text-anchor="middle" fill="#111">(0.24, 0.41)</text>
<text x="295" y="628.6" font-size="10" font-weight="normal" font-style="normal" text-anchor="middle" fill="#111">69.61%</text>
<text x="295" y="646.9" font-size="10" font-weight="normal" font-style="normal" text-anchor="middle" fill="#111">511 nm</text>
<text x="456" y="608.8" font-size="10" font-weight="normal" font-style="normal" text-anchor="middle" fill="#111">(0.45, 0.52)</text>
<text x="456" y="628.6" font-size="10" font-weight="normal" font-style="normal" text-anchor="middle" fill="#111">63.29%</text>
<text x="456" y="646.9" font-size="10" font-weight="normal" font-style="normal" text-anchor="middle" fill="#111">562 nm</text>
<text x="603.5" y="608.8" font-size="10" font-weight="normal" font-style="normal" text-anchor="middle" fill="#111">(0.58, 0.42)</text>
<text x="603.5" y="628.6" font-size="10" font-weight="normal" font-style="normal" text-anchor="middle" fill="#111">5.09%</text>
<text x="603.5" y="646.9" font-size="10" font-weight="normal" font-style="normal" text-anchor="middle" fill="#111">630 nm</text>
<path d="M122.8 497.9 L140.8 497 L144.8 510.8 L131.4 517.8 L115.1 513.6 Z" fill="#f8e0d4" stroke="none"/>
<path d="M98.7 517.8 L115.1 513.6 L131.4 517.8 L122.1 526.4 L104.9 525.6 Z" fill="url(#greenface)" stroke="none"/>
<line x1="104.9" y1="532" x2="98.7" y2="517.8" stroke="#aaa" stroke-width="0.5"/>
<line x1="104.9" y1="532" x2="98.7" y2="535.8" stroke="#aaa" stroke-width="0.5"/>
<line x1="104.9" y1="532" x2="115.1" y2="540.5" stroke="#aaa" stroke-width="0.5"/>
<line x1="104.9" y1="532" x2="115.1" y2="548.6" stroke="#aaa" stroke-width="0.5"/>
<line x1="104.9" y1="532" x2="104.9" y2="525.6" stroke="#aaa" stroke-width="0.5"/>
<line x1="123.3" y1="533" x2="131.4" y2="517.8" stroke="#aaa" stroke-width="0.5"/>
<line x1="123.3" y1="533" x2="131.4" y2="535.8" stroke="#aaa" stroke-width="0.5"/>
<line x1="123.3" y1="533" x2="115.1" y2="540.5" stroke="#aaa" stroke-width="0.5"/>
<line x1="123.3" y1="533" x2="115.1" y2="548.6" stroke="#aaa" stroke-width="0.5"/>
<line x1="123.3" y1="533" x2="122.1" y2="526.4" stroke="#aaa" stroke-width="0.5"/>
<line x1="98.7" y1="517.8" x2="115.1" y2="513.6" stroke="#161616" stroke-width="0.85"/>
<line x1="115.1" y1="513.6" x2="131.4" y2="517.8" stroke="#161616" stroke-width="0.85"/>
<line x1="131.4" y1="517.8" x2="122.1" y2="526.4" stroke="#161616" stroke-width="0.85"/>
<line x1="122.1" y1="526.4" x2="104.9" y2="525.6" stroke="#161616" stroke-width="0.85"/>
<line x1="104.9" y1="525.6" x2="98.7" y2="517.8" stroke="#161616" stroke-width="0.85"/>
<line x1="98.7" y1="517.8" x2="98.7" y2="535.8" stroke="#161616" stroke-width="0.85"/>
<line x1="131.4" y1="517.8" x2="131.4" y2="535.8" stroke="#161616" stroke-width="0.85"/>
<line x1="104.9" y1="525.6" x2="98.7" y2="535.8" stroke="#161616" stroke-width="0.85"/>
<line x1="104.9" y1="525.6" x2="115.1" y2="540.5" stroke="#161616" stroke-width="0.85"/>
<line x1="122.1" y1="526.4" x2="115.1" y2="540.5" stroke="#161616" stroke-width="0.85"/>
<line x1="122.1" y1="526.4" x2="131.4" y2="535.8" stroke="#161616" stroke-width="0.85"/>
<line x1="98.7" y1="535.8" x2="115.1" y2="540.5" stroke="#161616" stroke-width="0.85"/>
<line x1="115.1" y1="540.5" x2="131.4" y2="535.8" stroke="#161616" stroke-width="0.85"/>
<line x1="98.7" y1="535.8" x2="115.1" y2="548.6" stroke="#161616" stroke-width="0.85"/>
<line x1="131.4" y1="535.8" x2="115.1" y2="548.6" stroke="#161616" stroke-width="0.85"/>
<line x1="115.1" y1="540.5" x2="115.1" y2="548.6" stroke="#161616" stroke-width="0.85"/>
<line x1="122.8" y1="497.9" x2="140.8" y2="497" stroke="#1a1a1a" stroke-width="0.95"/>
<line x1="124.8" y1="500.5" x2="138.8" y2="499.6" stroke="#1a1a1a" stroke-width="0.95"/>
<line x1="122.8" y1="497.9" x2="115.1" y2="512.6" stroke="#1a1a1a" stroke-width="0.95"/>
<line x1="140.8" y1="497" x2="143.3" y2="507.3" stroke="#c08060" stroke-width="0.9"/>
<path d="M131.4 517.8 L140 512 L141.4 514.6 Z" fill="#111"/>
<line x1="147.3" y1="510.5" x2="157.6" y2="508.2" stroke="#222" stroke-width="0.8"/>
<line x1="145.3" y1="514.1" x2="150.4" y2="523.1" stroke="#222" stroke-width="0.8"/>
<text x="143.8" y="513.7" font-size="8" fill="#333" text-anchor="middle">P</text>
<text x="158.4" y="510.2" font-size="7.5" fill="#111">Ph</text>
<text x="149.8" y="530" font-size="7.5" fill="#111">Ph</text>
<circle cx="104.9" cy="532" r="1.3" fill="#fff" stroke="#e8a0b8" stroke-width="0.7"/>
<circle cx="123.3" cy="533" r="1.3" fill="#fff" stroke="#e8a0b8" stroke-width="0.7"/>
<circle cx="115.1" cy="513.6" r="2.85" fill="url(#pinkball)" stroke="#e389a6" stroke-width="0.55"/>
<circle cx="104.9" cy="525.6" r="2.85" fill="url(#pinkball)" stroke="#e389a6" stroke-width="0.55"/>
<circle cx="98.7" cy="517.8" r="2.85" fill="url(#pinkball)" stroke="#e389a6" stroke-width="0.55"/>
<circle cx="98.7" cy="535.8" r="2.85" fill="url(#pinkball)" stroke="#e389a6" stroke-width="0.55"/>
<circle cx="131.4" cy="535.8" r="2.85" fill="url(#pinkball)" stroke="#e389a6" stroke-width="0.55"/>
<circle cx="115.1" cy="540.5" r="2.85" fill="url(#pinkball)" stroke="#e389a6" stroke-width="0.55"/>
<circle cx="115.1" cy="548.6" r="2.85" fill="url(#pinkball)" stroke="#e389a6" stroke-width="0.55"/>
<circle cx="131.4" cy="517.8" r="2.7" fill="url(#blackball)"/>
<circle cx="122.1" cy="526.4" r="2.7" fill="url(#blackball)"/>
<path d="M99.3 465.2 L113.5 464.9 L120.3 476.1 L116.1 489.1 L102.6 489.6 L95.1 477.8 Z" fill="none" stroke="#1a1a1a" stroke-width="0.95" stroke-linejoin="round"/>
<line x1="102.37" y1="467.55" x2="111" y2="467.37" stroke="#1a1a1a" stroke-width="0.95"/>
<line x1="117.4" y1="477.55" x2="114.85" y2="485.46" stroke="#1a1a1a" stroke-width="0.95"/>
<line x1="102.92" y1="485.97" x2="98.36" y2="478.8" stroke="#1a1a1a" stroke-width="0.95"/>
<path d="M141.2 475.3 L149.6 463.5 L163.9 465.2 L169.8 478.6 L161.4 489.6 L147.1 488.4 Z" fill="none" stroke="#1a1a1a" stroke-width="0.95" stroke-linejoin="round"/>
<line x1="144.87" y1="474.46" x2="149.97" y2="467.29" stroke="#1a1a1a" stroke-width="0.95"/>
<line x1="162.79" y1="468.8" x2="166.37" y2="476.95" stroke="#1a1a1a" stroke-width="0.95"/>
<line x1="158.85" y1="486.92" x2="150.15" y2="486.19" stroke="#1a1a1a" stroke-width="0.95"/>
<line x1="116.1" y1="489.1" x2="122.8" y2="497.9" stroke="#1a1a1a" stroke-width="0.95"/>
<line x1="147.1" y1="488.4" x2="140.8" y2="497" stroke="#1a1a1a" stroke-width="0.95"/>
<line x1="99.3" y1="465.2" x2="90.9" y2="455.1" stroke="#1a1a1a" stroke-width="0.95"/>
<line x1="90.9" y1="455.1" x2="97" y2="442" stroke="#1a1a1a" stroke-width="0.95"/>
<line x1="97" y1="442" x2="112" y2="440.4" stroke="#1a1a1a" stroke-width="0.95"/>
<line x1="112" y1="440.4" x2="119.4" y2="451.8" stroke="#1a1a1a" stroke-width="0.95"/>
<line x1="119.4" y1="451.8" x2="113.5" y2="464.9" stroke="#1a1a1a" stroke-width="0.95"/>
<line x1="163.9" y1="465.2" x2="174" y2="453.5" stroke="#1a1a1a" stroke-width="0.95"/>
<line x1="174" y1="453.5" x2="189.5" y2="456.3" stroke="#1a1a1a" stroke-width="0.95"/>
<line x1="189.5" y1="456.3" x2="193.5" y2="468.6" stroke="#1a1a1a" stroke-width="0.95"/>
<line x1="193.5" y1="468.6" x2="184.9" y2="480.3" stroke="#1a1a1a" stroke-width="0.95"/>
<line x1="184.9" y1="480.3" x2="169.8" y2="478.6" stroke="#1a1a1a" stroke-width="0.95"/>
<circle cx="90.9" cy="455.1" r="3.3" fill="#fff"/>
<text x="90.9" y="458" font-size="8" fill="#222" text-anchor="middle">O</text>
<circle cx="119.4" cy="451.8" r="3.3" fill="#fff"/>
<text x="119.4" y="454.7" font-size="8" fill="#222" text-anchor="middle">O</text>
<circle cx="174" cy="453.5" r="3.3" fill="#fff"/>
<text x="174" y="456.4" font-size="8" fill="#222" text-anchor="middle">O</text>
<circle cx="184.9" cy="480.3" r="3.3" fill="#fff"/>
<text x="184.9" y="483.2" font-size="8" fill="#222" text-anchor="middle">O</text>
<text x="169.1" y="554.06" font-size="10.2" font-weight="bold" font-style="normal" text-anchor="middle" fill="#111">4ac</text>
<path d="M294.93 494.43 L313.47 493.5 L317.56 507.72 L303.79 514.93 L287 510.6 Z" fill="#f8e0d4" stroke="none"/>
<path d="M270.11 514.93 L287 510.6 L303.79 514.93 L294.21 523.78 L276.49 522.96 Z" fill="url(#greenface)" stroke="none"/>
<line x1="276.49" y1="529.55" x2="270.11" y2="514.93" stroke="#aaa" stroke-width="0.5"/>
<line x1="276.49" y1="529.55" x2="270.11" y2="533.47" stroke="#aaa" stroke-width="0.5"/>
<line x1="276.49" y1="529.55" x2="287" y2="538.31" stroke="#aaa" stroke-width="0.5"/>
<line x1="276.49" y1="529.55" x2="287" y2="546.65" stroke="#aaa" stroke-width="0.5"/>
<line x1="276.49" y1="529.55" x2="276.49" y2="522.96" stroke="#aaa" stroke-width="0.5"/>
<line x1="295.45" y1="530.58" x2="303.79" y2="514.93" stroke="#aaa" stroke-width="0.5"/>
<line x1="295.45" y1="530.58" x2="303.79" y2="533.47" stroke="#aaa" stroke-width="0.5"/>
<line x1="295.45" y1="530.58" x2="287" y2="538.31" stroke="#aaa" stroke-width="0.5"/>
<line x1="295.45" y1="530.58" x2="287" y2="546.65" stroke="#aaa" stroke-width="0.5"/>
<line x1="295.45" y1="530.58" x2="294.21" y2="523.78" stroke="#aaa" stroke-width="0.5"/>
<line x1="270.11" y1="514.93" x2="287" y2="510.6" stroke="#161616" stroke-width="0.85"/>
<line x1="287" y1="510.6" x2="303.79" y2="514.93" stroke="#161616" stroke-width="0.85"/>
<line x1="303.79" y1="514.93" x2="294.21" y2="523.78" stroke="#161616" stroke-width="0.85"/>
<line x1="294.21" y1="523.78" x2="276.49" y2="522.96" stroke="#161616" stroke-width="0.85"/>
<line x1="276.49" y1="522.96" x2="270.11" y2="514.93" stroke="#161616" stroke-width="0.85"/>
<line x1="270.11" y1="514.93" x2="270.11" y2="533.47" stroke="#161616" stroke-width="0.85"/>
<line x1="303.79" y1="514.93" x2="303.79" y2="533.47" stroke="#161616" stroke-width="0.85"/>
<line x1="276.49" y1="522.96" x2="270.11" y2="533.47" stroke="#161616" stroke-width="0.85"/>
<line x1="276.49" y1="522.96" x2="287" y2="538.31" stroke="#161616" stroke-width="0.85"/>
<line x1="294.21" y1="523.78" x2="287" y2="538.31" stroke="#161616" stroke-width="0.85"/>
<line x1="294.21" y1="523.78" x2="303.79" y2="533.47" stroke="#161616" stroke-width="0.85"/>
<line x1="270.11" y1="533.47" x2="287" y2="538.31" stroke="#161616" stroke-width="0.85"/>
<line x1="287" y1="538.31" x2="303.79" y2="533.47" stroke="#161616" stroke-width="0.85"/>
<line x1="270.11" y1="533.47" x2="287" y2="546.65" stroke="#161616" stroke-width="0.85"/>
<line x1="303.79" y1="533.47" x2="287" y2="546.65" stroke="#161616" stroke-width="0.85"/>
<line x1="287" y1="538.31" x2="287" y2="546.65" stroke="#161616" stroke-width="0.85"/>
<line x1="294.93" y1="494.43" x2="313.47" y2="493.5" stroke="#1a1a1a" stroke-width="0.95"/>
<line x1="296.93" y1="497.03" x2="311.47" y2="496.1" stroke="#1a1a1a" stroke-width="0.95"/>
<line x1="294.93" y1="494.43" x2="287" y2="509.6" stroke="#1a1a1a" stroke-width="0.95"/>
<line x1="313.47" y1="493.5" x2="316.06" y2="504.22" stroke="#c08060" stroke-width="0.9"/>
<path d="M303.79 514.93 L312.76 508.92 L314.16 511.52 Z" fill="#111"/>
<line x1="320.06" y1="507.42" x2="330.36" y2="505.12" stroke="#222" stroke-width="0.8"/>
<line x1="318.06" y1="511.02" x2="323.16" y2="520.02" stroke="#222" stroke-width="0.8"/>
<text x="316.56" y="510.62" font-size="8" fill="#333" text-anchor="middle">P</text>
<text x="331.16" y="507.12" font-size="7.5" fill="#111">Ph</text>
<text x="322.56" y="526.92" font-size="7.5" fill="#111">Ph</text>
<circle cx="276.49" cy="529.55" r="1.34" fill="#fff" stroke="#e8a0b8" stroke-width="0.7"/>
<circle cx="295.45" cy="530.58" r="1.34" fill="#fff" stroke="#e8a0b8" stroke-width="0.7"/>
<circle cx="287" cy="510.6" r="2.9355" fill="url(#pinkball)" stroke="#e389a6" stroke-width="0.55"/>
<circle cx="276.49" cy="522.96" r="2.9355" fill="url(#pinkball)" stroke="#e389a6" stroke-width="0.55"/>
<circle cx="270.11" cy="514.93" r="2.9355" fill="url(#pinkball)" stroke="#e389a6" stroke-width="0.55"/>
<circle cx="270.11" cy="533.47" r="2.9355" fill="url(#pinkball)" stroke="#e389a6" stroke-width="0.55"/>
<circle cx="303.79" cy="533.47" r="2.9355" fill="url(#pinkball)" stroke="#e389a6" stroke-width="0.55"/>
<circle cx="287" cy="538.31" r="2.9355" fill="url(#pinkball)" stroke="#e389a6" stroke-width="0.55"/>
<circle cx="287" cy="546.65" r="2.9355" fill="url(#pinkball)" stroke="#e389a6" stroke-width="0.55"/>
<circle cx="303.79" cy="514.93" r="2.781" fill="url(#blackball)"/>
<circle cx="294.21" cy="523.78" r="2.781" fill="url(#blackball)"/>
<path d="M270.73 460.75 L285.35 460.44 L292.36 471.98 L288.03 485.37 L274.12 485.88 L266.4 473.73 Z" fill="none" stroke="#1a1a1a" stroke-width="0.95" stroke-linejoin="round"/>
<line x1="273.88" y1="463.17" x2="282.78" y2="462.99" stroke="#1a1a1a" stroke-width="0.95"/>
<line x1="289.37" y1="473.47" x2="286.74" y2="481.61" stroke="#1a1a1a" stroke-width="0.95"/>
<line x1="274.46" y1="482.14" x2="269.76" y2="474.75" stroke="#1a1a1a" stroke-width="0.95"/>
<path d="M313.88 471.15 L322.54 459 L337.26 460.75 L343.34 474.55 L334.69 485.88 L319.96 484.64 Z" fill="none" stroke="#1a1a1a" stroke-width="0.95" stroke-linejoin="round"/>
<line x1="317.66" y1="470.29" x2="322.92" y2="462.9" stroke="#1a1a1a" stroke-width="0.95"/>
<line x1="336.12" y1="464.46" x2="339.81" y2="472.85" stroke="#1a1a1a" stroke-width="0.95"/>
<line x1="332.06" y1="483.12" x2="323.1" y2="482.37" stroke="#1a1a1a" stroke-width="0.95"/>
<line x1="288.03" y1="485.37" x2="294.93" y2="494.43" stroke="#1a1a1a" stroke-width="0.95"/>
<line x1="319.96" y1="484.64" x2="313.47" y2="493.5" stroke="#1a1a1a" stroke-width="0.95"/>
<line x1="270.73" y1="460.75" x2="266.4" y2="455.6" stroke="#1a1a1a" stroke-width="0.95"/>
<line x1="337.26" y1="460.75" x2="342.62" y2="455.08" stroke="#1a1a1a" stroke-width="0.95"/>
<text x="266.9" y="456.1" font-size="8" fill="#222" text-anchor="end"><tspan font-size="5.5" dy="-3">t</tspan><tspan dy="3">Bu</tspan></text>
<text x="342.12" y="455.58" font-size="8" fill="#222"><tspan font-size="5.5" dy="-3">t</tspan><tspan dy="3">Bu</tspan></text>
<text x="336" y="553.36" font-size="10.2" font-weight="bold" font-style="normal" text-anchor="middle" fill="#111">3ad</text>
<path d="M454.72 494.04 L473.71 493.09 L477.88 507.65 L463.8 515.03 L446.6 510.6 Z" fill="#f8e0d4" stroke="none"/>
<path d="M429.3 515.03 L446.6 510.6 L463.8 515.03 L453.99 524.1 L435.84 523.26 Z" fill="url(#greenface)" stroke="none"/>
<line x1="435.84" y1="530.01" x2="429.3" y2="515.03" stroke="#aaa" stroke-width="0.5"/>
<line x1="435.84" y1="530.01" x2="429.3" y2="534.02" stroke="#aaa" stroke-width="0.5"/>
<line x1="435.84" y1="530.01" x2="446.6" y2="538.98" stroke="#aaa" stroke-width="0.5"/>
<line x1="435.84" y1="530.01" x2="446.6" y2="547.52" stroke="#aaa" stroke-width="0.5"/>
<line x1="435.84" y1="530.01" x2="435.84" y2="523.26" stroke="#aaa" stroke-width="0.5"/>
<line x1="455.25" y1="531.07" x2="463.8" y2="515.03" stroke="#aaa" stroke-width="0.5"/>
<line x1="455.25" y1="531.07" x2="463.8" y2="534.02" stroke="#aaa" stroke-width="0.5"/>
<line x1="455.25" y1="531.07" x2="446.6" y2="538.98" stroke="#aaa" stroke-width="0.5"/>
<line x1="455.25" y1="531.07" x2="446.6" y2="547.52" stroke="#aaa" stroke-width="0.5"/>
<line x1="455.25" y1="531.07" x2="453.99" y2="524.1" stroke="#aaa" stroke-width="0.5"/>
<line x1="429.3" y1="515.03" x2="446.6" y2="510.6" stroke="#161616" stroke-width="0.85"/>
<line x1="446.6" y1="510.6" x2="463.8" y2="515.03" stroke="#161616" stroke-width="0.85"/>
<line x1="463.8" y1="515.03" x2="453.99" y2="524.1" stroke="#161616" stroke-width="0.85"/>
<line x1="453.99" y1="524.1" x2="435.84" y2="523.26" stroke="#161616" stroke-width="0.85"/>
<line x1="435.84" y1="523.26" x2="429.3" y2="515.03" stroke="#161616" stroke-width="0.85"/>
<line x1="429.3" y1="515.03" x2="429.3" y2="534.02" stroke="#161616" stroke-width="0.85"/>
<line x1="463.8" y1="515.03" x2="463.8" y2="534.02" stroke="#161616" stroke-width="0.85"/>
<line x1="435.84" y1="523.26" x2="429.3" y2="534.02" stroke="#161616" stroke-width="0.85"/>
<line x1="435.84" y1="523.26" x2="446.6" y2="538.98" stroke="#161616" stroke-width="0.85"/>
<line x1="453.99" y1="524.1" x2="446.6" y2="538.98" stroke="#161616" stroke-width="0.85"/>
<line x1="453.99" y1="524.1" x2="463.8" y2="534.02" stroke="#161616" stroke-width="0.85"/>
<line x1="429.3" y1="534.02" x2="446.6" y2="538.98" stroke="#161616" stroke-width="0.85"/>
<line x1="446.6" y1="538.98" x2="463.8" y2="534.02" stroke="#161616" stroke-width="0.85"/>
<line x1="429.3" y1="534.02" x2="446.6" y2="547.52" stroke="#161616" stroke-width="0.85"/>
<line x1="463.8" y1="534.02" x2="446.6" y2="547.52" stroke="#161616" stroke-width="0.85"/>
<line x1="446.6" y1="538.98" x2="446.6" y2="547.52" stroke="#161616" stroke-width="0.85"/>
<line x1="454.72" y1="494.04" x2="473.71" y2="493.09" stroke="#1a1a1a" stroke-width="0.95"/>
<line x1="456.72" y1="496.64" x2="471.71" y2="495.69" stroke="#1a1a1a" stroke-width="0.95"/>
<line x1="454.72" y1="494.04" x2="446.6" y2="509.6" stroke="#1a1a1a" stroke-width="0.95"/>
<line x1="473.71" y1="493.09" x2="476.38" y2="504.15" stroke="#c08060" stroke-width="0.9"/>
<path d="M463.8 515.03 L473.08 508.85 L474.48 511.45 Z" fill="#111"/>
<line x1="480.38" y1="507.35" x2="490.68" y2="505.05" stroke="#222" stroke-width="0.8"/>
<line x1="478.38" y1="510.95" x2="483.48" y2="519.95" stroke="#222" stroke-width="0.8"/>
<text x="476.88" y="510.55" font-size="8" fill="#333" text-anchor="middle">P</text>
<text x="491.48" y="507.05" font-size="7.5" fill="#111">Ph</text>
<text x="482.88" y="526.85" font-size="7.5" fill="#111">Ph</text>
<circle cx="435.84" cy="530.01" r="1.37" fill="#fff" stroke="#e8a0b8" stroke-width="0.7"/>
<circle cx="455.25" cy="531.07" r="1.37" fill="#fff" stroke="#e8a0b8" stroke-width="0.7"/>
<circle cx="446.6" cy="510.6" r="3.00675" fill="url(#pinkball)" stroke="#e389a6" stroke-width="0.55"/>
<circle cx="435.84" cy="523.26" r="3.00675" fill="url(#pinkball)" stroke="#e389a6" stroke-width="0.55"/>
<circle cx="429.3" cy="515.03" r="3.00675" fill="url(#pinkball)" stroke="#e389a6" stroke-width="0.55"/>
<circle cx="429.3" cy="534.02" r="3.00675" fill="url(#pinkball)" stroke="#e389a6" stroke-width="0.55"/>
<circle cx="463.8" cy="534.02" r="3.00675" fill="url(#pinkball)" stroke="#e389a6" stroke-width="0.55"/>
<circle cx="446.6" cy="538.98" r="3.00675" fill="url(#pinkball)" stroke="#e389a6" stroke-width="0.55"/>
<circle cx="446.6" cy="547.52" r="3.00675" fill="url(#pinkball)" stroke="#e389a6" stroke-width="0.55"/>
<circle cx="463.8" cy="515.03" r="2.8485" fill="url(#blackball)"/>
<circle cx="453.99" cy="524.1" r="2.8485" fill="url(#blackball)"/>
<path d="M429.93 459.54 L444.91 459.22 L452.09 471.04 L447.66 484.75 L433.41 485.28 L425.5 472.83 Z" fill="none" stroke="#1a1a1a" stroke-width="0.95" stroke-linejoin="round"/>
<line x1="433.17" y1="462.02" x2="442.27" y2="461.83" stroke="#1a1a1a" stroke-width="0.95"/>
<line x1="449.03" y1="472.57" x2="446.33" y2="480.91" stroke="#1a1a1a" stroke-width="0.95"/>
<line x1="433.75" y1="481.45" x2="428.94" y2="473.88" stroke="#1a1a1a" stroke-width="0.95"/>
<path d="M474.14 470.19 L483 457.74 L498.08 459.54 L504.31 473.68 L495.45 485.28 L480.36 484.01 Z" fill="none" stroke="#1a1a1a" stroke-width="0.95" stroke-linejoin="round"/>
<line x1="478" y1="469.31" x2="483.39" y2="461.74" stroke="#1a1a1a" stroke-width="0.95"/>
<line x1="496.91" y1="463.34" x2="500.69" y2="471.93" stroke="#1a1a1a" stroke-width="0.95"/>
<line x1="492.75" y1="482.45" x2="483.58" y2="481.68" stroke="#1a1a1a" stroke-width="0.95"/>
<line x1="447.66" y1="484.75" x2="454.72" y2="494.04" stroke="#1a1a1a" stroke-width="0.95"/>
<line x1="480.36" y1="484.01" x2="473.71" y2="493.09" stroke="#1a1a1a" stroke-width="0.95"/>
<line x1="429.93" y1="459.54" x2="425.5" y2="454.26" stroke="#1a1a1a" stroke-width="0.95"/>
<line x1="498.08" y1="459.54" x2="503.57" y2="453.74" stroke="#1a1a1a" stroke-width="0.95"/>
<text x="426.5" y="455.76" font-size="8" fill="#222" text-anchor="end">F<tspan font-size="5.5" dy="2">3</tspan><tspan dy="-2">C</tspan></text>
<text x="503.07" y="455.24" font-size="8" fill="#222">CF<tspan font-size="5.5" dy="2">3</tspan></text>
<text x="499.3" y="551.56" font-size="10.2" font-weight="bold" font-style="normal" text-anchor="middle" fill="#111">3aq</text>
<path d="M600.33 494.43 L618.87 493.5 L622.96 507.72 L609.19 514.93 L592.4 510.6 Z" fill="#f8e0d4" stroke="none"/>
<path d="M575.51 514.93 L592.4 510.6 L609.19 514.93 L599.61 523.78 L581.89 522.96 Z" fill="url(#greenface)" stroke="none"/>
<line x1="581.89" y1="529.55" x2="575.51" y2="514.93" stroke="#aaa" stroke-width="0.5"/>
<line x1="581.89" y1="529.55" x2="575.51" y2="533.47" stroke="#aaa" stroke-width="0.5"/>
<line x1="581.89" y1="529.55" x2="592.4" y2="538.31" stroke="#aaa" stroke-width="0.5"/>
<line x1="581.89" y1="529.55" x2="592.4" y2="546.65" stroke="#aaa" stroke-width="0.5"/>
<line x1="581.89" y1="529.55" x2="581.89" y2="522.96" stroke="#aaa" stroke-width="0.5"/>
<line x1="600.85" y1="530.58" x2="609.19" y2="514.93" stroke="#aaa" stroke-width="0.5"/>
<line x1="600.85" y1="530.58" x2="609.19" y2="533.47" stroke="#aaa" stroke-width="0.5"/>
<line x1="600.85" y1="530.58" x2="592.4" y2="538.31" stroke="#aaa" stroke-width="0.5"/>
<line x1="600.85" y1="530.58" x2="592.4" y2="546.65" stroke="#aaa" stroke-width="0.5"/>
<line x1="600.85" y1="530.58" x2="599.61" y2="523.78" stroke="#aaa" stroke-width="0.5"/>
<line x1="575.51" y1="514.93" x2="592.4" y2="510.6" stroke="#161616" stroke-width="0.85"/>
<line x1="592.4" y1="510.6" x2="609.19" y2="514.93" stroke="#161616" stroke-width="0.85"/>
<line x1="609.19" y1="514.93" x2="599.61" y2="523.78" stroke="#161616" stroke-width="0.85"/>
<line x1="599.61" y1="523.78" x2="581.89" y2="522.96" stroke="#161616" stroke-width="0.85"/>
<line x1="581.89" y1="522.96" x2="575.51" y2="514.93" stroke="#161616" stroke-width="0.85"/>
<line x1="575.51" y1="514.93" x2="575.51" y2="533.47" stroke="#161616" stroke-width="0.85"/>
<line x1="609.19" y1="514.93" x2="609.19" y2="533.47" stroke="#161616" stroke-width="0.85"/>
<line x1="581.89" y1="522.96" x2="575.51" y2="533.47" stroke="#161616" stroke-width="0.85"/>
<line x1="581.89" y1="522.96" x2="592.4" y2="538.31" stroke="#161616" stroke-width="0.85"/>
<line x1="599.61" y1="523.78" x2="592.4" y2="538.31" stroke="#161616" stroke-width="0.85"/>
<line x1="599.61" y1="523.78" x2="609.19" y2="533.47" stroke="#161616" stroke-width="0.85"/>
<line x1="575.51" y1="533.47" x2="592.4" y2="538.31" stroke="#161616" stroke-width="0.85"/>
<line x1="592.4" y1="538.31" x2="609.19" y2="533.47" stroke="#161616" stroke-width="0.85"/>
<line x1="575.51" y1="533.47" x2="592.4" y2="546.65" stroke="#161616" stroke-width="0.85"/>
<line x1="609.19" y1="533.47" x2="592.4" y2="546.65" stroke="#161616" stroke-width="0.85"/>
<line x1="592.4" y1="538.31" x2="592.4" y2="546.65" stroke="#161616" stroke-width="0.85"/>
<line x1="600.33" y1="494.43" x2="618.87" y2="493.5" stroke="#1a1a1a" stroke-width="0.95"/>
<line x1="602.33" y1="497.03" x2="616.87" y2="496.1" stroke="#1a1a1a" stroke-width="0.95"/>
<line x1="600.33" y1="494.43" x2="592.4" y2="509.6" stroke="#1a1a1a" stroke-width="0.95"/>
<line x1="618.87" y1="493.5" x2="621.46" y2="504.22" stroke="#c08060" stroke-width="0.9"/>
<path d="M609.19 514.93 L618.16 508.92 L619.56 511.52 Z" fill="#111"/>
<line x1="625.46" y1="507.42" x2="635.76" y2="505.12" stroke="#222" stroke-width="0.8"/>
<line x1="623.46" y1="511.02" x2="628.56" y2="520.02" stroke="#222" stroke-width="0.8"/>
<text x="621.96" y="510.62" font-size="8" fill="#333" text-anchor="middle">P</text>
<text x="636.56" y="507.12" font-size="7.5" fill="#111">Ph</text>
<text x="627.96" y="526.92" font-size="7.5" fill="#111">Ph</text>
<circle cx="581.89" cy="529.55" r="1.34" fill="#fff" stroke="#e8a0b8" stroke-width="0.7"/>
<circle cx="600.85" cy="530.58" r="1.34" fill="#fff" stroke="#e8a0b8" stroke-width="0.7"/>
<circle cx="592.4" cy="510.6" r="2.9355" fill="url(#pinkball)" stroke="#e389a6" stroke-width="0.55"/>
<circle cx="581.89" cy="522.96" r="2.9355" fill="url(#pinkball)" stroke="#e389a6" stroke-width="0.55"/>
<circle cx="575.51" cy="514.93" r="2.9355" fill="url(#pinkball)" stroke="#e389a6" stroke-width="0.55"/>
<circle cx="575.51" cy="533.47" r="2.9355" fill="url(#pinkball)" stroke="#e389a6" stroke-width="0.55"/>
<circle cx="609.19" cy="533.47" r="2.9355" fill="url(#pinkball)" stroke="#e389a6" stroke-width="0.55"/>
<circle cx="592.4" cy="538.31" r="2.9355" fill="url(#pinkball)" stroke="#e389a6" stroke-width="0.55"/>
<circle cx="592.4" cy="546.65" r="2.9355" fill="url(#pinkball)" stroke="#e389a6" stroke-width="0.55"/>
<circle cx="609.19" cy="514.93" r="2.781" fill="url(#blackball)"/>
<circle cx="599.61" cy="523.78" r="2.781" fill="url(#blackball)"/>
<path d="M576.13 460.75 L590.75 460.44 L597.76 471.98 L593.43 485.37 L579.52 485.88 L571.8 473.73 Z" fill="none" stroke="#1a1a1a" stroke-width="0.95" stroke-linejoin="round"/>
<line x1="579.28" y1="463.17" x2="588.18" y2="462.99" stroke="#1a1a1a" stroke-width="0.95"/>
<line x1="594.77" y1="473.47" x2="592.14" y2="481.61" stroke="#1a1a1a" stroke-width="0.95"/>
<line x1="579.86" y1="482.14" x2="575.16" y2="474.75" stroke="#1a1a1a" stroke-width="0.95"/>
<path d="M619.28 471.15 L627.93 459 L642.66 460.75 L648.74 474.55 L640.09 485.88 L625.36 484.64 Z" fill="none" stroke="#1a1a1a" stroke-width="0.95" stroke-linejoin="round"/>
<line x1="623.06" y1="470.29" x2="628.32" y2="462.9" stroke="#1a1a1a" stroke-width="0.95"/>
<line x1="641.52" y1="464.46" x2="645.21" y2="472.85" stroke="#1a1a1a" stroke-width="0.95"/>
<line x1="637.46" y1="483.12" x2="628.5" y2="482.37" stroke="#1a1a1a" stroke-width="0.95"/>
<line x1="593.43" y1="485.37" x2="600.33" y2="494.43" stroke="#1a1a1a" stroke-width="0.95"/>
<line x1="625.36" y1="484.64" x2="618.87" y2="493.5" stroke="#1a1a1a" stroke-width="0.95"/>
<line x1="576.13" y1="460.75" x2="571.8" y2="455.6" stroke="#1a1a1a" stroke-width="0.95"/>
<line x1="642.66" y1="460.75" x2="648.02" y2="455.08" stroke="#1a1a1a" stroke-width="0.95"/>
<text x="572.8" y="457.1" font-size="8" fill="#222" text-anchor="end">O<tspan font-size="5.5" dy="2">2</tspan><tspan dy="-2">N</tspan></text>
<text x="647.52" y="456.58" font-size="8" fill="#222">NO<tspan font-size="5.5" dy="2">2</tspan></text>
<text x="636.1" y="547.86" font-size="10.2" font-weight="bold" font-style="normal" text-anchor="middle" fill="#111">3ap</text>
<rect x="104.1" y="559.1" width="36.1" height="37.6" fill="#030b1a" stroke="none" stroke-width="1"/>
<path d="M129.81 577.5 C130.5 578.04 133.55 579.73 133.98 580.74 C134.42 581.74 133.36 583.01 132.41 583.53 C131.46 584.04 129.11 583.31 128.29 583.84 C127.48 584.36 128.05 586.06 127.53 586.69 C127.01 587.33 125.93 587.17 125.16 587.65 C124.39 588.14 123.76 589.15 122.9 589.63 C122.04 590.11 120.7 591.25 120 590.54 C119.29 589.84 119.12 586.49 118.65 585.42 C118.17 584.35 118.29 583.94 117.17 584.11 C116.05 584.28 112.72 586.69 111.93 586.42 C111.15 586.15 112.86 583.47 112.46 582.49 C112.06 581.52 109.28 581.43 109.54 580.6 C109.81 579.77 113.71 578.45 114.04 577.5 C114.37 576.55 112.04 575.89 111.51 574.91 C110.97 573.92 110.27 572.21 110.83 571.6 C111.38 571 114.33 572.25 114.83 571.28 C115.33 570.32 113.51 566.95 113.84 565.82 C114.17 564.69 115.7 563.89 116.82 564.51 C117.94 565.12 119.65 568.67 120.58 569.51 C121.51 570.35 121.62 570 122.42 569.55 C123.22 569.09 124.25 567.38 125.37 566.77 C126.49 566.15 128.55 565.21 129.14 565.85 C129.73 566.49 128.87 569.38 128.9 570.6 C128.93 571.82 128.91 572.46 129.32 573.18 C129.73 573.9 131.27 574.22 131.35 574.94 C131.43 575.66 130.06 577.07 129.81 577.5 Z" fill="#2a98b0" opacity="0.55"/>
<path d="M128.76 577.5 C128.87 577.87 129.28 578.92 129.4 579.73 C129.52 580.54 129.67 581.54 129.47 582.34 C129.27 583.15 128.85 584.11 128.2 584.56 C127.56 585 126.38 584.79 125.62 585 C124.85 585.22 124.31 585.68 123.63 585.86 C122.94 586.04 122.26 585.91 121.5 586.09 C120.74 586.28 119.8 587.1 119.09 586.96 C118.38 586.82 117.7 585.93 117.25 585.25 C116.8 584.57 117.28 583.2 116.39 582.88 C115.5 582.56 112.6 583.8 111.88 583.34 C111.16 582.89 112.16 581.14 112.06 580.16 C111.97 579.19 111.04 578.31 111.32 577.5 C111.61 576.69 113.78 576.36 113.76 575.32 C113.75 574.28 111.28 572.3 111.25 571.27 C111.21 570.24 112.51 569.29 113.57 569.16 C114.64 569.03 116.7 570.57 117.65 570.48 C118.6 570.4 118.61 569.33 119.25 568.65 C119.89 567.97 120.67 566.7 121.5 566.39 C122.33 566.09 123.25 566.73 124.22 566.82 C125.18 566.91 126.66 566.3 127.29 566.95 C127.91 567.6 127.32 569.92 127.96 570.7 C128.59 571.49 130.5 571.01 131.08 571.67 C131.67 572.34 131.84 573.72 131.46 574.69 C131.07 575.66 129.21 577.03 128.76 577.5 Z" fill="#5fe4ee"/>
<circle cx="120.03" cy="581.94" r="2.44" fill="#2a98b0" opacity="0.5"/>
<circle cx="123.68" cy="574.17" r="2.02" fill="#2a98b0" opacity="0.5"/>
<circle cx="123.3" cy="577.92" r="2.32" fill="#2a98b0" opacity="0.5"/>
<circle cx="120.37" cy="578.21" r="1.97" fill="#2a98b0" opacity="0.5"/>
<circle cx="120.01" cy="572.34" r="1.72" fill="#2a98b0" opacity="0.5"/>
<circle cx="117.92" cy="579.02" r="2.29" fill="#2a98b0" opacity="0.5"/>
<circle cx="118.54" cy="577.09" r="1.89" fill="#2a98b0" opacity="0.5"/>
<circle cx="121.82" cy="577.56" r="2.18" fill="#2a98b0" opacity="0.5"/>
<circle cx="125.98" cy="577" r="1.75" fill="#2a98b0" opacity="0.5"/>
<circle cx="123.33" cy="581.03" r="2.57" fill="#2a98b0" opacity="0.5"/>
<circle cx="122.14" cy="572.31" r="1.83" fill="#030b1a" opacity="0.7"/>
<circle cx="122.04" cy="582.55" r="1.94" fill="#030b1a" opacity="0.7"/>
<circle cx="110.73" cy="571.47" r="0.63" fill="#5fe4ee" opacity="0.45"/>
<circle cx="108.05" cy="573.1" r="0.5" fill="#5fe4ee" opacity="0.45"/>
<circle cx="124.35" cy="563.54" r="0.94" fill="#5fe4ee" opacity="0.45"/>
<circle cx="120.69" cy="563.29" r="0.76" fill="#5fe4ee" opacity="0.45"/>
<circle cx="110.32" cy="572.72" r="0.53" fill="#5fe4ee" opacity="0.45"/>
<circle cx="130.14" cy="567.82" r="0.6" fill="#5fe4ee" opacity="0.45"/>
<circle cx="109.21" cy="577.12" r="0.68" fill="#5fe4ee" opacity="0.45"/>
<circle cx="114.41" cy="588.33" r="0.81" fill="#5fe4ee" opacity="0.45"/>
<rect x="273.3" y="559.1" width="36.7" height="37.6" fill="#010201" stroke="none" stroke-width="1"/>
<path d="M309.33 577.8 C309.23 578.34 310.2 580.43 308.75 581.03 C307.29 581.64 302.16 581.08 300.6 581.43 C299.04 581.77 299.29 581.95 299.37 583.1 C299.44 584.25 301.42 587.31 301.05 588.32 C300.69 589.33 298.45 588.97 297.17 589.16 C295.88 589.34 294.55 589.77 293.36 589.44 C292.17 589.1 291.2 587.32 290.01 587.15 C288.82 586.97 287.38 588.39 286.22 588.38 C285.06 588.38 283.99 587.65 283.04 587.12 C282.09 586.59 280.74 586.1 280.51 585.2 C280.28 584.3 281.98 582.56 281.64 581.73 C281.3 580.9 279.01 580.9 278.47 580.24 C277.93 579.59 278.79 578.69 278.39 577.8 C278 576.91 276.58 575.98 276.09 574.91 C275.59 573.84 275.07 572.4 275.42 571.39 C275.77 570.38 276.88 569.27 278.2 568.84 C279.51 568.41 281.92 568.92 283.34 568.81 C284.75 568.7 285.58 568.2 286.7 568.18 C287.82 568.16 289.04 568.37 290.05 568.71 C291.05 569.04 291.88 569.85 292.72 570.18 C293.55 570.51 293.96 570.83 295.06 570.67 C296.15 570.51 298.32 569.09 299.29 569.23 C300.25 569.37 300.22 570.85 300.84 571.51 C301.46 572.18 301.76 572.69 303 573.21 C304.25 573.74 307.23 573.89 308.29 574.66 C309.34 575.42 309.16 577.28 309.33 577.8 Z" fill="#2f9a78" opacity="0.55"/>
<path d="M304.16 577.8 C304.12 578.22 304.48 579.65 303.94 580.33 C303.4 581.02 301.85 581.49 300.9 581.92 C299.95 582.35 298.85 582.35 298.23 582.92 C297.62 583.48 297.88 584.91 297.2 585.31 C296.52 585.71 295.1 584.97 294.15 585.31 C293.2 585.65 292.61 586.69 291.5 587.35 C290.39 588.01 288.59 589.36 287.46 589.26 C286.33 589.16 285.27 587.71 284.7 586.74 C284.14 585.78 285.09 583.99 284.07 583.45 C283.04 582.91 279.62 583.96 278.54 583.48 C277.47 583.01 277.8 581.57 277.63 580.62 C277.47 579.68 277.65 578.76 277.53 577.8 C277.42 576.84 276.69 575.74 276.97 574.84 C277.26 573.95 278.52 573.21 279.25 572.43 C279.99 571.64 280.3 570.48 281.38 570.11 C282.46 569.73 284.69 570.79 285.71 570.17 C286.72 569.56 286.52 567.09 287.49 566.42 C288.45 565.74 290.38 565.48 291.5 566.11 C292.62 566.73 293.01 569.77 294.19 570.18 C295.36 570.58 297.36 568.5 298.54 568.53 C299.73 568.56 300.69 569.59 301.29 570.36 C301.89 571.13 301.71 572.32 302.12 573.14 C302.53 573.97 303.42 574.53 303.76 575.3 C304.1 576.08 304.09 577.38 304.16 577.8 Z" fill="#6ae6bc"/>
<circle cx="282.27" cy="578.24" r="1.9" fill="#2f9a78" opacity="0.5"/>
<circle cx="293.23" cy="575.46" r="2.44" fill="#2f9a78" opacity="0.5"/>
<circle cx="295.22" cy="575.73" r="1.99" fill="#2f9a78" opacity="0.5"/>
<circle cx="297.85" cy="575.16" r="1.88" fill="#2f9a78" opacity="0.5"/>
<circle cx="292.07" cy="580.23" r="2.18" fill="#2f9a78" opacity="0.5"/>
<circle cx="296.07" cy="583.76" r="1.58" fill="#2f9a78" opacity="0.5"/>
<circle cx="294.13" cy="576.56" r="2.54" fill="#2f9a78" opacity="0.5"/>
<circle cx="290.13" cy="574.11" r="1.92" fill="#2f9a78" opacity="0.5"/>
<circle cx="288.09" cy="574.16" r="1.64" fill="#2f9a78" opacity="0.5"/>
<circle cx="292.84" cy="581.55" r="2.51" fill="#2f9a78" opacity="0.5"/>
<circle cx="289.31" cy="576.17" r="1.78" fill="#010201" opacity="0.7"/>
<circle cx="290.1" cy="570.81" r="1.03" fill="#010201" opacity="0.7"/>
<circle cx="291.4" cy="575.57" r="1.58" fill="#010201" opacity="0.7"/>
<circle cx="290.89" cy="580.96" r="1.85" fill="#010201" opacity="0.7"/>
<circle cx="304.35" cy="585.5" r="0.93" fill="#6ae6bc" opacity="0.45"/>
<circle cx="291.98" cy="589.04" r="0.94" fill="#6ae6bc" opacity="0.45"/>
<circle cx="276.16" cy="583.94" r="0.52" fill="#6ae6bc" opacity="0.45"/>
<circle cx="282.02" cy="586.25" r="0.84" fill="#6ae6bc" opacity="0.45"/>
<circle cx="307.57" cy="584.81" r="0.51" fill="#6ae6bc" opacity="0.45"/>
<circle cx="289.71" cy="567.36" r="0.63" fill="#6ae6bc" opacity="0.45"/>
<circle cx="297.13" cy="567.62" r="0.59" fill="#6ae6bc" opacity="0.45"/>
<circle cx="285.86" cy="566.68" r="0.52" fill="#6ae6bc" opacity="0.45"/>
<rect x="433.3" y="558.6" width="36.5" height="37.5" fill="#0d0e0d" stroke="none" stroke-width="1"/>
<path d="M461.41 577.5 C461.71 578.03 463.27 579.74 463.22 580.66 C463.17 581.58 461.5 582.03 461.1 583.02 C460.71 584 461.25 585.59 460.85 586.57 C460.45 587.55 459.73 588.93 458.68 588.9 C457.64 588.87 455.61 586.79 454.58 586.4 C453.55 586.01 453.3 585.47 452.5 586.55 C451.71 587.63 450.56 592.67 449.8 592.88 C449.03 593.08 448.58 588.88 447.93 587.8 C447.28 586.73 447.19 586.28 445.88 586.41 C444.58 586.54 440.85 589.09 440.08 588.58 C439.31 588.08 441.66 584.61 441.27 583.38 C440.89 582.15 438 582.18 437.78 581.2 C437.55 580.22 439.68 578.67 439.91 577.5 C440.13 576.33 438.57 574.95 439.13 574.16 C439.69 573.37 442.79 573.75 443.27 572.77 C443.75 571.79 441.97 569.64 441.99 568.27 C442 566.9 442.46 565.06 443.34 564.56 C444.23 564.06 446.18 565.57 447.27 565.29 C448.36 565.01 448.91 563.18 449.88 562.86 C450.84 562.55 452.28 562.44 453.06 563.4 C453.85 564.36 453.55 568.3 454.58 568.61 C455.6 568.92 458.18 565.28 459.22 565.26 C460.25 565.24 460.54 567.33 460.78 568.49 C461.03 569.65 460.85 571.1 460.67 572.23 C460.49 573.36 459.58 574.41 459.71 575.28 C459.83 576.16 461.13 577.13 461.41 577.5 Z" fill="#9ab020" opacity="0.55"/>
<path d="M463.92 577.5 C463.52 577.99 461.89 579.37 461.5 580.44 C461.12 581.5 461.78 582.76 461.59 583.88 C461.39 585 461.04 586.4 460.33 587.17 C459.62 587.95 458.24 587.9 457.31 588.53 C456.39 589.15 455.76 590.97 454.79 590.95 C453.82 590.93 452.57 588.51 451.5 588.4 C450.43 588.28 449.22 590.48 448.37 590.28 C447.52 590.08 447.38 587.66 446.4 587.18 C445.41 586.7 443.41 587.88 442.46 587.4 C441.51 586.93 440.53 585.59 440.68 584.34 C440.84 583.09 443.03 581.02 443.4 579.88 C443.77 578.74 443.01 578.32 442.91 577.5 C442.81 576.68 443.23 576.13 442.79 574.94 C442.36 573.76 440.04 571.3 440.29 570.41 C440.54 569.53 443.37 570.21 444.31 569.63 C445.25 569.04 445.13 567.27 445.92 566.91 C446.71 566.55 448.12 567.66 449.05 567.5 C449.98 567.34 450.67 566.04 451.5 565.96 C452.33 565.88 453.25 566.64 454.06 567.03 C454.87 567.41 455.5 567.95 456.36 568.28 C457.22 568.62 458.47 568.48 459.24 569.02 C460.01 569.56 460.23 570.69 460.98 571.51 C461.72 572.32 463.2 572.92 463.69 573.92 C464.18 574.92 463.88 576.9 463.92 577.5 Z" fill="#e2f43a"/>
<circle cx="448.26" cy="569.72" r="2.4" fill="#9ab020" opacity="0.5"/>
<circle cx="457.13" cy="577.15" r="1.43" fill="#9ab020" opacity="0.5"/>
<circle cx="456.69" cy="570.68" r="2.47" fill="#9ab020" opacity="0.5"/>
<circle cx="446.06" cy="574.74" r="1.5" fill="#9ab020" opacity="0.5"/>
<circle cx="453.86" cy="572.9" r="1.6" fill="#9ab020" opacity="0.5"/>
<circle cx="458.11" cy="580.55" r="2.59" fill="#9ab020" opacity="0.5"/>
<circle cx="457.21" cy="581.39" r="1.77" fill="#9ab020" opacity="0.5"/>
<circle cx="452.94" cy="579.69" r="2.28" fill="#9ab020" opacity="0.5"/>
<circle cx="451.76" cy="577.21" r="2.06" fill="#9ab020" opacity="0.5"/>
<circle cx="457.3" cy="579.34" r="1.66" fill="#9ab020" opacity="0.5"/>
<circle cx="457.57" cy="571.33" r="1.41" fill="#0d0e0d" opacity="0.7"/>
<circle cx="464.35" cy="577.37" r="0.54" fill="#e2f43a" opacity="0.45"/>
<circle cx="442.04" cy="570" r="0.6" fill="#e2f43a" opacity="0.45"/>
<circle cx="439.68" cy="585.95" r="0.58" fill="#e2f43a" opacity="0.45"/>
<circle cx="466.16" cy="581.88" r="0.66" fill="#e2f43a" opacity="0.45"/>
<circle cx="466.3" cy="573.19" r="0.69" fill="#e2f43a" opacity="0.45"/>
<circle cx="438.19" cy="581.2" r="0.82" fill="#e2f43a" opacity="0.45"/>
<circle cx="440.04" cy="568.89" r="0.81" fill="#e2f43a" opacity="0.45"/>
<circle cx="464.24" cy="572.04" r="0.72" fill="#e2f43a" opacity="0.45"/>
<rect x="581.3" y="558.6" width="36.5" height="37.5" fill="#060404" stroke="none" stroke-width="1"/>
<path d="M610.75 577.5 C610.51 577.86 609.3 578.79 609.27 579.64 C609.24 580.5 610.94 581.95 610.59 582.62 C610.23 583.3 608.14 583.34 607.14 583.68 C606.15 584.02 605.25 583.97 604.62 584.66 C603.99 585.35 604.01 586.61 603.36 587.85 C602.7 589.09 601.85 591.53 600.7 592.1 C599.54 592.67 597.79 591.59 596.43 591.28 C595.07 590.97 593.32 591.2 592.52 590.25 C591.71 589.29 592.47 586.36 591.61 585.56 C590.75 584.77 588.07 586.03 587.36 585.47 C586.65 584.91 587.37 583.18 587.34 582.23 C587.3 581.28 587.13 580.55 587.14 579.76 C587.15 578.97 587.44 578.27 587.38 577.5 C587.32 576.73 587.63 576.31 586.79 575.17 C585.94 574.02 582.52 571.8 582.3 570.63 C582.08 569.47 584.38 568.93 585.45 568.16 C586.52 567.4 587.55 566.65 588.71 566.04 C589.87 565.43 591.01 564.2 592.41 564.52 C593.8 564.84 595.79 567.53 597.07 567.97 C598.34 568.41 598.89 567.54 600.05 567.16 C601.22 566.77 602.75 565.78 604.06 565.67 C605.37 565.55 606.64 566.08 607.92 566.48 C609.2 566.87 610.65 567.32 611.72 568.04 C612.79 568.76 614.76 569.57 614.33 570.79 C613.9 572.01 609.73 574.26 609.13 575.38 C608.54 576.5 610.48 577.15 610.75 577.5 Z" fill="#8a2410" opacity="0.55"/>
<path d="M612.19 577.5 C612.18 577.99 612.53 579.57 612.14 580.45 C611.74 581.33 610.78 582.22 609.79 582.77 C608.8 583.31 607.02 583.11 606.21 583.73 C605.4 584.35 605.75 586.17 604.91 586.47 C604.07 586.78 602.24 584.93 601.17 585.56 C600.1 586.19 599.61 589.63 598.5 590.28 C597.39 590.94 595.63 590.07 594.52 589.5 C593.41 588.92 592.56 587.7 591.85 586.81 C591.13 585.92 591.38 584.68 590.23 584.18 C589.07 583.69 585.73 584.47 584.94 583.82 C584.15 583.18 585.81 581.37 585.49 580.32 C585.17 579.26 583.3 578.5 583.01 577.5 C582.73 576.5 583.06 575.19 583.76 574.31 C584.45 573.43 586.2 572.88 587.19 572.23 C588.19 571.58 588.96 571.11 589.7 570.39 C590.45 569.68 590.75 568.4 591.68 567.96 C592.6 567.51 594.11 567.57 595.25 567.71 C596.39 567.84 597.45 568.67 598.5 568.78 C599.55 568.88 600.28 568.64 601.54 568.35 C602.79 568.05 605.34 566.41 606.02 566.99 C606.69 567.56 605.39 570.7 605.59 571.77 C605.79 572.85 606.16 572.97 607.2 573.44 C608.25 573.91 611.02 573.93 611.85 574.61 C612.68 575.29 612.13 577.02 612.19 577.5 Z" fill="#d6461e"/>
<circle cx="597.44" cy="581.91" r="1.86" fill="#8a2410" opacity="0.5"/>
<circle cx="592.79" cy="584.49" r="1.47" fill="#8a2410" opacity="0.5"/>
<circle cx="596.7" cy="578.39" r="2.09" fill="#8a2410" opacity="0.5"/>
<circle cx="597.89" cy="580.45" r="2.25" fill="#8a2410" opacity="0.5"/>
<circle cx="596.01" cy="581.74" r="2.47" fill="#8a2410" opacity="0.5"/>
<circle cx="599.02" cy="577.81" r="1.52" fill="#8a2410" opacity="0.5"/>
<circle cx="599.11" cy="572.35" r="1.53" fill="#8a2410" opacity="0.5"/>
<circle cx="597.6" cy="578.8" r="1.84" fill="#8a2410" opacity="0.5"/>
<circle cx="605.49" cy="579.06" r="2.45" fill="#8a2410" opacity="0.5"/>
<circle cx="605.84" cy="575.77" r="2.54" fill="#8a2410" opacity="0.5"/>
<circle cx="603.32" cy="577.95" r="1.96" fill="#060404" opacity="0.7"/>
<circle cx="599.42" cy="572.87" r="1.93" fill="#060404" opacity="0.7"/>
<circle cx="591.97" cy="572.52" r="1.15" fill="#060404" opacity="0.7"/>
<circle cx="600.68" cy="582.07" r="0.96" fill="#060404" opacity="0.7"/>
<circle cx="591.07" cy="583.02" r="1.2" fill="#060404" opacity="0.7"/>
<circle cx="601.44" cy="577.64" r="1" fill="#060404" opacity="0.7"/>
<circle cx="599.64" cy="573.21" r="1.15" fill="#060404" opacity="0.7"/>
<circle cx="606.91" cy="582.25" r="1.31" fill="#060404" opacity="0.7"/>
<circle cx="599.3" cy="579.89" r="0.87" fill="#060404" opacity="0.7"/>
<circle cx="602.35" cy="583.05" r="0.98" fill="#060404" opacity="0.7"/>
<circle cx="604.72" cy="578.82" r="1.1" fill="#060404" opacity="0.7"/>
<circle cx="602.05" cy="577.46" r="1.44" fill="#060404" opacity="0.7"/>
<circle cx="599.36" cy="572.87" r="1.99" fill="#060404" opacity="0.7"/>
<circle cx="594.06" cy="578.01" r="1.29" fill="#060404" opacity="0.7"/>
<circle cx="604.23" cy="578.59" r="1.1" fill="#060404" opacity="0.7"/>
<circle cx="605.47" cy="572.8" r="1.4" fill="#060404" opacity="0.7"/>
<circle cx="613.81" cy="579.99" r="0.62" fill="#d6461e" opacity="0.45"/>
<circle cx="602.54" cy="589.59" r="0.93" fill="#d6461e" opacity="0.45"/>
<circle cx="607.66" cy="586.64" r="0.96" fill="#d6461e" opacity="0.45"/>
<circle cx="582.94" cy="586.28" r="0.83" fill="#d6461e" opacity="0.45"/>
<circle cx="603.11" cy="563.3" r="0.75" fill="#d6461e" opacity="0.45"/>
<circle cx="611.35" cy="584.35" r="0.94" fill="#d6461e" opacity="0.45"/>
<circle cx="613.94" cy="568.41" r="0.67" fill="#d6461e" opacity="0.45"/>
<path d="M63.5 733.9 L79.2 733.5 L89.4 739.3 L88 747.7 L88.7 756.5 L73.4 760.9 L58.8 751.4 Z" fill="#f3cdd2" opacity="0.85"/>
<line x1="63.5" y1="733.9" x2="64.2" y2="741.5" stroke="#de9aa4" stroke-width="2.3" stroke-linecap="round"/>
<line x1="63.5" y1="733.9" x2="58.8" y2="751.4" stroke="#de9aa4" stroke-width="2.3" stroke-linecap="round"/>
<line x1="64.2" y1="741.5" x2="82.8" y2="743.4" stroke="#de9aa4" stroke-width="2.3" stroke-linecap="round"/>
<line x1="64.2" y1="741.5" x2="58.8" y2="751.4" stroke="#de9aa4" stroke-width="2.3" stroke-linecap="round"/>
<line x1="64.2" y1="741.5" x2="70.5" y2="757.5" stroke="#de9aa4" stroke-width="2.3" stroke-linecap="round"/>
<line x1="82.8" y1="743.4" x2="70.5" y2="757.5" stroke="#de9aa4" stroke-width="2.3" stroke-linecap="round"/>
<line x1="82.8" y1="743.4" x2="88" y2="747.7" stroke="#de9aa4" stroke-width="2.3" stroke-linecap="round"/>
<line x1="58.8" y1="751.4" x2="73.4" y2="760.9" stroke="#de9aa4" stroke-width="2.3" stroke-linecap="round"/>
<line x1="58.8" y1="751.4" x2="88.7" y2="756.5" stroke="#de9aa4" stroke-width="2.3" stroke-linecap="round"/>
<line x1="73.4" y1="760.9" x2="88.7" y2="756.5" stroke="#de9aa4" stroke-width="2.3" stroke-linecap="round"/>
<line x1="88.7" y1="756.5" x2="88" y2="747.7" stroke="#de9aa4" stroke-width="2.3" stroke-linecap="round"/>
<line x1="71.9" y1="745.5" x2="70.5" y2="757.5" stroke="#de9aa4" stroke-width="2.3" stroke-linecap="round"/>
<line x1="71.9" y1="745.5" x2="88" y2="747.7" stroke="#de9aa4" stroke-width="2.3" stroke-linecap="round"/>
<line x1="70.5" y1="757.5" x2="73.4" y2="760.9" stroke="#de9aa4" stroke-width="2.3" stroke-linecap="round"/>
<line x1="77" y1="750" x2="73.4" y2="760.9" stroke="#de9aa4" stroke-width="2.3" stroke-linecap="round"/>
<line x1="77" y1="750" x2="82.8" y2="743.4" stroke="#de9aa4" stroke-width="2.3" stroke-linecap="round"/>
<line x1="71.9" y1="745.5" x2="64.2" y2="741.5" stroke="#de9aa4" stroke-width="2.3" stroke-linecap="round"/>
<line x1="63.5" y1="733.9" x2="64.2" y2="741.5" stroke="#f5d3d7" stroke-width="0.8" stroke-linecap="round"/>
<line x1="63.5" y1="733.9" x2="58.8" y2="751.4" stroke="#f5d3d7" stroke-width="0.8" stroke-linecap="round"/>
<line x1="64.2" y1="741.5" x2="82.8" y2="743.4" stroke="#f5d3d7" stroke-width="0.8" stroke-linecap="round"/>
<line x1="64.2" y1="741.5" x2="58.8" y2="751.4" stroke="#f5d3d7" stroke-width="0.8" stroke-linecap="round"/>
<line x1="64.2" y1="741.5" x2="70.5" y2="757.5" stroke="#f5d3d7" stroke-width="0.8" stroke-linecap="round"/>
<line x1="82.8" y1="743.4" x2="70.5" y2="757.5" stroke="#f5d3d7" stroke-width="0.8" stroke-linecap="round"/>
<line x1="82.8" y1="743.4" x2="88" y2="747.7" stroke="#f5d3d7" stroke-width="0.8" stroke-linecap="round"/>
<line x1="58.8" y1="751.4" x2="73.4" y2="760.9" stroke="#f5d3d7" stroke-width="0.8" stroke-linecap="round"/>
<line x1="58.8" y1="751.4" x2="88.7" y2="756.5" stroke="#f5d3d7" stroke-width="0.8" stroke-linecap="round"/>
<line x1="73.4" y1="760.9" x2="88.7" y2="756.5" stroke="#f5d3d7" stroke-width="0.8" stroke-linecap="round"/>
<line x1="88.7" y1="756.5" x2="88" y2="747.7" stroke="#f5d3d7" stroke-width="0.8" stroke-linecap="round"/>
<line x1="71.9" y1="745.5" x2="70.5" y2="757.5" stroke="#f5d3d7" stroke-width="0.8" stroke-linecap="round"/>
<line x1="71.9" y1="745.5" x2="88" y2="747.7" stroke="#f5d3d7" stroke-width="0.8" stroke-linecap="round"/>
<line x1="70.5" y1="757.5" x2="73.4" y2="760.9" stroke="#f5d3d7" stroke-width="0.8" stroke-linecap="round"/>
<line x1="77" y1="750" x2="73.4" y2="760.9" stroke="#f5d3d7" stroke-width="0.8" stroke-linecap="round"/>
<line x1="77" y1="750" x2="82.8" y2="743.4" stroke="#f5d3d7" stroke-width="0.8" stroke-linecap="round"/>
<line x1="71.9" y1="745.5" x2="64.2" y2="741.5" stroke="#f5d3d7" stroke-width="0.8" stroke-linecap="round"/>
<line x1="63.5" y1="733.9" x2="71.35" y2="733.7" stroke="#de9aa4" stroke-width="2.2" stroke-linecap="round"/>
<line x1="71.35" y1="733.7" x2="79.2" y2="733.5" stroke="#6e6e6e" stroke-width="2.2" stroke-linecap="round"/>
<line x1="89.4" y1="739.3" x2="88.7" y2="743.5" stroke="#6e6e6e" stroke-width="2.2" stroke-linecap="round"/>
<line x1="88.7" y1="743.5" x2="88" y2="747.7" stroke="#de9aa4" stroke-width="2.2" stroke-linecap="round"/>
<line x1="79.2" y1="733.5" x2="89.4" y2="739.3" stroke="#6e6e6e" stroke-width="2.5" stroke-linecap="round"/>
<line x1="79.2" y1="733.5" x2="71.9" y2="745.5" stroke="#6e6e6e" stroke-width="2.3" stroke-linecap="round"/>
<line x1="79.2" y1="733.5" x2="82.8" y2="743.4" stroke="#6e6e6e" stroke-width="2.3" stroke-linecap="round"/>
<line x1="56" y1="720.6" x2="58.75" y2="724.8" stroke="#6e6e6e" stroke-width="2.2" stroke-linecap="round"/>
<line x1="58.75" y1="724.8" x2="61.5" y2="729" stroke="#de9aa4" stroke-width="2.2" stroke-linecap="round"/>
<line x1="61.5" y1="729" x2="63.5" y2="733.9" stroke="#de9aa4" stroke-width="2.2" stroke-linecap="round"/>
<circle cx="63.5" cy="733.9" r="1.7" fill="#e4a4ac"/>
<ellipse cx="79.2" cy="733.5" rx="2.69" ry="2.11" fill="url(#grayball)"/>
<ellipse cx="89.4" cy="739.3" rx="2.69" ry="2.11" fill="url(#grayball)"/>
<circle cx="64.2" cy="741.5" r="1.7" fill="#e4a4ac"/>
<circle cx="82.8" cy="743.4" r="1.7" fill="#e4a4ac"/>
<circle cx="88" cy="747.7" r="1.7" fill="#e4a4ac"/>
<circle cx="58.8" cy="751.4" r="1.7" fill="#e4a4ac"/>
<circle cx="71.9" cy="745.5" r="1.7" fill="#e4a4ac"/>
<circle cx="88.7" cy="756.5" r="1.7" fill="#e4a4ac"/>
<circle cx="73.4" cy="760.9" r="1.7" fill="#e4a4ac"/>
<circle cx="70.5" cy="757.5" r="1.7" fill="#e4a4ac"/>
<circle cx="77" cy="750" r="1.7" fill="#e4a4ac"/>
<line x1="51.4" y1="677.7" x2="63.6" y2="677.4" stroke="#6e6e6e" stroke-width="2.5" stroke-linecap="round"/>
<line x1="63.6" y1="677.4" x2="67.5" y2="688.4" stroke="#6e6e6e" stroke-width="2.5" stroke-linecap="round"/>
<line x1="67.5" y1="688.4" x2="59.8" y2="700.7" stroke="#6e6e6e" stroke-width="2.5" stroke-linecap="round"/>
<line x1="59.8" y1="700.7" x2="47.6" y2="700.7" stroke="#6e6e6e" stroke-width="2.5" stroke-linecap="round"/>
<line x1="47.6" y1="700.7" x2="43.7" y2="689.2" stroke="#6e6e6e" stroke-width="2.5" stroke-linecap="round"/>
<line x1="43.7" y1="689.2" x2="51.4" y2="677.7" stroke="#6e6e6e" stroke-width="2.5" stroke-linecap="round"/>
<ellipse cx="51.4" cy="677.7" rx="3.02" ry="2.38" fill="url(#grayball)"/>
<ellipse cx="63.6" cy="677.4" rx="3.02" ry="2.38" fill="url(#grayball)"/>
<ellipse cx="67.5" cy="688.4" rx="3.02" ry="2.38" fill="url(#grayball)"/>
<ellipse cx="59.8" cy="700.7" rx="3.02" ry="2.38" fill="url(#grayball)"/>
<ellipse cx="47.6" cy="700.7" rx="3.02" ry="2.38" fill="url(#grayball)"/>
<ellipse cx="43.7" cy="689.2" rx="3.02" ry="2.38" fill="url(#grayball)"/>
<line x1="25.3" y1="704.5" x2="38.4" y2="706.5" stroke="#6e6e6e" stroke-width="2.5" stroke-linecap="round"/>
<line x1="38.4" y1="706.5" x2="42.2" y2="718.7" stroke="#6e6e6e" stroke-width="2.5" stroke-linecap="round"/>
<line x1="42.2" y1="718.7" x2="33" y2="727.5" stroke="#6e6e6e" stroke-width="2.5" stroke-linecap="round"/>
<line x1="33" y1="727.5" x2="19.2" y2="724.4" stroke="#6e6e6e" stroke-width="2.5" stroke-linecap="round"/>
<line x1="19.2" y1="724.4" x2="15.4" y2="713.7" stroke="#6e6e6e" stroke-width="2.5" stroke-linecap="round"/>
<line x1="15.4" y1="713.7" x2="25.3" y2="704.5" stroke="#6e6e6e" stroke-width="2.5" stroke-linecap="round"/>
<ellipse cx="25.3" cy="704.5" rx="3.02" ry="2.38" fill="url(#grayball)"/>
<ellipse cx="38.4" cy="706.5" rx="3.02" ry="2.38" fill="url(#grayball)"/>
<ellipse cx="42.2" cy="718.7" rx="3.02" ry="2.38" fill="url(#grayball)"/>
<ellipse cx="33" cy="727.5" rx="3.02" ry="2.38" fill="url(#grayball)"/>
<ellipse cx="19.2" cy="724.4" rx="3.02" ry="2.38" fill="url(#grayball)"/>
<ellipse cx="15.4" cy="713.7" rx="3.02" ry="2.38" fill="url(#grayball)"/>
<line x1="56.93" y1="721.51" x2="64.73" y2="713.51" stroke="#6e6e6e" stroke-width="1.8" stroke-linecap="round"/>
<line x1="55.07" y1="719.69" x2="62.87" y2="711.69" stroke="#6e6e6e" stroke-width="1.8" stroke-linecap="round"/>
<line x1="63.8" y1="712.6" x2="59.8" y2="700.7" stroke="#6e6e6e" stroke-width="2.6" stroke-linecap="round"/>
<line x1="56" y1="720.6" x2="42.2" y2="718.7" stroke="#6e6e6e" stroke-width="2.6" stroke-linecap="round"/>
<line x1="63.8" y1="712.6" x2="72.1" y2="714.95" stroke="#6e6e6e" stroke-width="2.6" stroke-linecap="round"/>
<line x1="72.1" y1="714.95" x2="80.4" y2="717.3" stroke="#f0a020" stroke-width="2.6" stroke-linecap="round"/>
<line x1="80.4" y1="717.3" x2="85.6" y2="711.85" stroke="#f0a020" stroke-width="2.6" stroke-linecap="round"/>
<line x1="85.6" y1="711.85" x2="90.8" y2="706.4" stroke="#6e6e6e" stroke-width="2.6" stroke-linecap="round"/>
<line x1="80.4" y1="717.3" x2="78.05" y2="719.1" stroke="#f0a020" stroke-width="2.6" stroke-linecap="round"/>
<line x1="78.05" y1="719.1" x2="75.7" y2="720.9" stroke="#6e6e6e" stroke-width="2.6" stroke-linecap="round"/>
<line x1="80.4" y1="717.3" x2="79.8" y2="725.4" stroke="#f0a020" stroke-width="2.6" stroke-linecap="round"/>
<line x1="79.8" y1="725.4" x2="79.2" y2="733.5" stroke="#6e6e6e" stroke-width="2.6" stroke-linecap="round"/>
<line x1="90.8" y1="706.4" x2="97.5" y2="696.1" stroke="#6e6e6e" stroke-width="2.3" stroke-linecap="round"/>
<line x1="97.5" y1="696.1" x2="108.4" y2="689.8" stroke="#6e6e6e" stroke-width="2.3" stroke-linecap="round"/>
<line x1="108.4" y1="689.8" x2="111.2" y2="692.6" stroke="#6e6e6e" stroke-width="2.3" stroke-linecap="round"/>
<line x1="111.2" y1="692.6" x2="104.5" y2="700.8" stroke="#6e6e6e" stroke-width="2.3" stroke-linecap="round"/>
<line x1="104.5" y1="700.8" x2="94" y2="708.6" stroke="#6e6e6e" stroke-width="2.3" stroke-linecap="round"/>
<line x1="94" y1="708.6" x2="90.8" y2="706.4" stroke="#6e6e6e" stroke-width="2.3" stroke-linecap="round"/>
<ellipse cx="90.8" cy="706.4" rx="3.02" ry="2.38" fill="url(#grayball)"/>
<ellipse cx="97.5" cy="696.1" rx="3.02" ry="2.38" fill="url(#grayball)"/>
<ellipse cx="108.4" cy="689.8" rx="3.02" ry="2.38" fill="url(#grayball)"/>
<ellipse cx="111.2" cy="692.6" rx="3.02" ry="2.38" fill="url(#grayball)"/>
<ellipse cx="104.5" cy="700.8" rx="3.02" ry="2.38" fill="url(#grayball)"/>
<ellipse cx="94" cy="708.6" rx="3.02" ry="2.38" fill="url(#grayball)"/>
<line x1="75.7" y1="720.9" x2="84" y2="721.8" stroke="#6e6e6e" stroke-width="2.3" stroke-linecap="round"/>
<line x1="84" y1="721.8" x2="92.3" y2="727.7" stroke="#6e6e6e" stroke-width="2.3" stroke-linecap="round"/>
<line x1="92.3" y1="727.7" x2="98.5" y2="725.6" stroke="#6e6e6e" stroke-width="2.3" stroke-linecap="round"/>
<line x1="98.5" y1="725.6" x2="102.2" y2="729.2" stroke="#6e6e6e" stroke-width="2.3" stroke-linecap="round"/>
<line x1="102.2" y1="729.2" x2="90" y2="730.6" stroke="#6e6e6e" stroke-width="2.3" stroke-linecap="round"/>
<line x1="90" y1="730.6" x2="75.7" y2="720.9" stroke="#6e6e6e" stroke-width="2.3" stroke-linecap="round"/>
<ellipse cx="75.7" cy="720.9" rx="3.02" ry="2.38" fill="url(#grayball)"/>
<ellipse cx="84" cy="721.8" rx="3.02" ry="2.38" fill="url(#grayball)"/>
<ellipse cx="92.3" cy="727.7" rx="3.02" ry="2.38" fill="url(#grayball)"/>
<ellipse cx="98.5" cy="725.6" rx="3.02" ry="2.38" fill="url(#grayball)"/>
<ellipse cx="102.2" cy="729.2" rx="3.02" ry="2.38" fill="url(#grayball)"/>
<ellipse cx="90" cy="730.6" rx="3.02" ry="2.38" fill="url(#grayball)"/>
<ellipse cx="56" cy="720.6" rx="3.02" ry="2.38" fill="url(#grayball)"/>
<ellipse cx="63.8" cy="712.6" rx="3.02" ry="2.38" fill="url(#grayball)"/>
<ellipse cx="79.2" cy="733.5" rx="3.02" ry="2.38" fill="url(#grayball)"/>
<ellipse cx="89.2" cy="739.1" rx="3.02" ry="2.38" fill="url(#grayball)"/>
<circle cx="80.4" cy="717.3" r="2.6" fill="#f0a020"/>
<path d="M183.5 733.9 L167.8 733.5 L157.6 739.3 L159 747.7 L158.3 756.5 L173.6 760.9 L188.2 751.4 Z" fill="#f3cdd2" opacity="0.85"/>
<line x1="183.5" y1="733.9" x2="182.8" y2="741.5" stroke="#de9aa4" stroke-width="2.3" stroke-linecap="round"/>
<line x1="183.5" y1="733.9" x2="188.2" y2="751.4" stroke="#de9aa4" stroke-width="2.3" stroke-linecap="round"/>
<line x1="182.8" y1="741.5" x2="164.2" y2="743.4" stroke="#de9aa4" stroke-width="2.3" stroke-linecap="round"/>
<line x1="182.8" y1="741.5" x2="188.2" y2="751.4" stroke="#de9aa4" stroke-width="2.3" stroke-linecap="round"/>
<line x1="182.8" y1="741.5" x2="176.5" y2="757.5" stroke="#de9aa4" stroke-width="2.3" stroke-linecap="round"/>
<line x1="164.2" y1="743.4" x2="176.5" y2="757.5" stroke="#de9aa4" stroke-width="2.3" stroke-linecap="round"/>
<line x1="164.2" y1="743.4" x2="159" y2="747.7" stroke="#de9aa4" stroke-width="2.3" stroke-linecap="round"/>
<line x1="188.2" y1="751.4" x2="173.6" y2="760.9" stroke="#de9aa4" stroke-width="2.3" stroke-linecap="round"/>
<line x1="188.2" y1="751.4" x2="158.3" y2="756.5" stroke="#de9aa4" stroke-width="2.3" stroke-linecap="round"/>
<line x1="173.6" y1="760.9" x2="158.3" y2="756.5" stroke="#de9aa4" stroke-width="2.3" stroke-linecap="round"/>
<line x1="158.3" y1="756.5" x2="159" y2="747.7" stroke="#de9aa4" stroke-width="2.3" stroke-linecap="round"/>
<line x1="175.1" y1="745.5" x2="176.5" y2="757.5" stroke="#de9aa4" stroke-width="2.3" stroke-linecap="round"/>
<line x1="175.1" y1="745.5" x2="159" y2="747.7" stroke="#de9aa4" stroke-width="2.3" stroke-linecap="round"/>
<line x1="176.5" y1="757.5" x2="173.6" y2="760.9" stroke="#de9aa4" stroke-width="2.3" stroke-linecap="round"/>
<line x1="170" y1="750" x2="173.6" y2="760.9" stroke="#de9aa4" stroke-width="2.3" stroke-linecap="round"/>
<line x1="170" y1="750" x2="164.2" y2="743.4" stroke="#de9aa4" stroke-width="2.3" stroke-linecap="round"/>
<line x1="175.1" y1="745.5" x2="182.8" y2="741.5" stroke="#de9aa4" stroke-width="2.3" stroke-linecap="round"/>
<line x1="183.5" y1="733.9" x2="182.8" y2="741.5" stroke="#f5d3d7" stroke-width="0.8" stroke-linecap="round"/>
<line x1="183.5" y1="733.9" x2="188.2" y2="751.4" stroke="#f5d3d7" stroke-width="0.8" stroke-linecap="round"/>
<line x1="182.8" y1="741.5" x2="164.2" y2="743.4" stroke="#f5d3d7" stroke-width="0.8" stroke-linecap="round"/>
<line x1="182.8" y1="741.5" x2="188.2" y2="751.4" stroke="#f5d3d7" stroke-width="0.8" stroke-linecap="round"/>
<line x1="182.8" y1="741.5" x2="176.5" y2="757.5" stroke="#f5d3d7" stroke-width="0.8" stroke-linecap="round"/>
<line x1="164.2" y1="743.4" x2="176.5" y2="757.5" stroke="#f5d3d7" stroke-width="0.8" stroke-linecap="round"/>
<line x1="164.2" y1="743.4" x2="159" y2="747.7" stroke="#f5d3d7" stroke-width="0.8" stroke-linecap="round"/>
<line x1="188.2" y1="751.4" x2="173.6" y2="760.9" stroke="#f5d3d7" stroke-width="0.8" stroke-linecap="round"/>
<line x1="188.2" y1="751.4" x2="158.3" y2="756.5" stroke="#f5d3d7" stroke-width="0.8" stroke-linecap="round"/>
<line x1="173.6" y1="760.9" x2="158.3" y2="756.5" stroke="#f5d3d7" stroke-width="0.8" stroke-linecap="round"/>
<line x1="158.3" y1="756.5" x2="159" y2="747.7" stroke="#f5d3d7" stroke-width="0.8" stroke-linecap="round"/>
<line x1="175.1" y1="745.5" x2="176.5" y2="757.5" stroke="#f5d3d7" stroke-width="0.8" stroke-linecap="round"/>
<line x1="175.1" y1="745.5" x2="159" y2="747.7" stroke="#f5d3d7" stroke-width="0.8" stroke-linecap="round"/>
<line x1="176.5" y1="757.5" x2="173.6" y2="760.9" stroke="#f5d3d7" stroke-width="0.8" stroke-linecap="round"/>
<line x1="170" y1="750" x2="173.6" y2="760.9" stroke="#f5d3d7" stroke-width="0.8" stroke-linecap="round"/>
<line x1="170" y1="750" x2="164.2" y2="743.4" stroke="#f5d3d7" stroke-width="0.8" stroke-linecap="round"/>
<line x1="175.1" y1="745.5" x2="182.8" y2="741.5" stroke="#f5d3d7" stroke-width="0.8" stroke-linecap="round"/>
<line x1="183.5" y1="733.9" x2="175.65" y2="733.7" stroke="#de9aa4" stroke-width="2.2" stroke-linecap="round"/>
<line x1="175.65" y1="733.7" x2="167.8" y2="733.5" stroke="#6e6e6e" stroke-width="2.2" stroke-linecap="round"/>
<line x1="157.6" y1="739.3" x2="158.3" y2="743.5" stroke="#6e6e6e" stroke-width="2.2" stroke-linecap="round"/>
<line x1="158.3" y1="743.5" x2="159" y2="747.7" stroke="#de9aa4" stroke-width="2.2" stroke-linecap="round"/>
<line x1="167.8" y1="733.5" x2="157.6" y2="739.3" stroke="#6e6e6e" stroke-width="2.5" stroke-linecap="round"/>
<line x1="167.8" y1="733.5" x2="175.1" y2="745.5" stroke="#6e6e6e" stroke-width="2.3" stroke-linecap="round"/>
<line x1="167.8" y1="733.5" x2="164.2" y2="743.4" stroke="#6e6e6e" stroke-width="2.3" stroke-linecap="round"/>
<line x1="191" y1="720.6" x2="188.25" y2="724.8" stroke="#6e6e6e" stroke-width="2.2" stroke-linecap="round"/>
<line x1="188.25" y1="724.8" x2="185.5" y2="729" stroke="#de9aa4" stroke-width="2.2" stroke-linecap="round"/>
<line x1="185.5" y1="729" x2="183.5" y2="733.9" stroke="#de9aa4" stroke-width="2.2" stroke-linecap="round"/>
<circle cx="183.5" cy="733.9" r="1.7" fill="#e4a4ac"/>
<ellipse cx="167.8" cy="733.5" rx="2.69" ry="2.11" fill="url(#grayball)"/>
<ellipse cx="157.6" cy="739.3" rx="2.69" ry="2.11" fill="url(#grayball)"/>
<circle cx="182.8" cy="741.5" r="1.7" fill="#e4a4ac"/>
<circle cx="164.2" cy="743.4" r="1.7" fill="#e4a4ac"/>
<circle cx="159" cy="747.7" r="1.7" fill="#e4a4ac"/>
<circle cx="188.2" cy="751.4" r="1.7" fill="#e4a4ac"/>
<circle cx="175.1" cy="745.5" r="1.7" fill="#e4a4ac"/>
<circle cx="158.3" cy="756.5" r="1.7" fill="#e4a4ac"/>
<circle cx="173.6" cy="760.9" r="1.7" fill="#e4a4ac"/>
<circle cx="176.5" cy="757.5" r="1.7" fill="#e4a4ac"/>
<circle cx="170" cy="750" r="1.7" fill="#e4a4ac"/>
<line x1="195.6" y1="677.7" x2="183.4" y2="677.4" stroke="#6e6e6e" stroke-width="2.5" stroke-linecap="round"/>
<line x1="183.4" y1="677.4" x2="179.5" y2="688.4" stroke="#6e6e6e" stroke-width="2.5" stroke-linecap="round"/>
<line x1="179.5" y1="688.4" x2="187.2" y2="700.7" stroke="#6e6e6e" stroke-width="2.5" stroke-linecap="round"/>
<line x1="187.2" y1="700.7" x2="199.4" y2="700.7" stroke="#6e6e6e" stroke-width="2.5" stroke-linecap="round"/>
<line x1="199.4" y1="700.7" x2="203.3" y2="689.2" stroke="#6e6e6e" stroke-width="2.5" stroke-linecap="round"/>
<line x1="203.3" y1="689.2" x2="195.6" y2="677.7" stroke="#6e6e6e" stroke-width="2.5" stroke-linecap="round"/>
<ellipse cx="195.6" cy="677.7" rx="3.02" ry="2.38" fill="url(#grayball)"/>
<ellipse cx="183.4" cy="677.4" rx="3.02" ry="2.38" fill="url(#grayball)"/>
<ellipse cx="179.5" cy="688.4" rx="3.02" ry="2.38" fill="url(#grayball)"/>
<ellipse cx="187.2" cy="700.7" rx="3.02" ry="2.38" fill="url(#grayball)"/>
<ellipse cx="199.4" cy="700.7" rx="3.02" ry="2.38" fill="url(#grayball)"/>
<ellipse cx="203.3" cy="689.2" rx="3.02" ry="2.38" fill="url(#grayball)"/>
<line x1="221.7" y1="704.5" x2="208.6" y2="706.5" stroke="#6e6e6e" stroke-width="2.5" stroke-linecap="round"/>
<line x1="208.6" y1="706.5" x2="204.8" y2="718.7" stroke="#6e6e6e" stroke-width="2.5" stroke-linecap="round"/>
<line x1="204.8" y1="718.7" x2="214" y2="727.5" stroke="#6e6e6e" stroke-width="2.5" stroke-linecap="round"/>
<line x1="214" y1="727.5" x2="227.8" y2="724.4" stroke="#6e6e6e" stroke-width="2.5" stroke-linecap="round"/>
<line x1="227.8" y1="724.4" x2="231.6" y2="713.7" stroke="#6e6e6e" stroke-width="2.5" stroke-linecap="round"/>
<line x1="231.6" y1="713.7" x2="221.7" y2="704.5" stroke="#6e6e6e" stroke-width="2.5" stroke-linecap="round"/>
<ellipse cx="221.7" cy="704.5" rx="3.02" ry="2.38" fill="url(#grayball)"/>
<ellipse cx="208.6" cy="706.5" rx="3.02" ry="2.38" fill="url(#grayball)"/>
<ellipse cx="204.8" cy="718.7" rx="3.02" ry="2.38" fill="url(#grayball)"/>
<ellipse cx="214" cy="727.5" rx="3.02" ry="2.38" fill="url(#grayball)"/>
<ellipse cx="227.8" cy="724.4" rx="3.02" ry="2.38" fill="url(#grayball)"/>
<ellipse cx="231.6" cy="713.7" rx="3.02" ry="2.38" fill="url(#grayball)"/>
<line x1="191.93" y1="719.69" x2="184.13" y2="711.69" stroke="#6e6e6e" stroke-width="1.8" stroke-linecap="round"/>
<line x1="190.07" y1="721.51" x2="182.27" y2="713.51" stroke="#6e6e6e" stroke-width="1.8" stroke-linecap="round"/>
<line x1="183.2" y1="712.6" x2="187.2" y2="700.7" stroke="#6e6e6e" stroke-width="2.6" stroke-linecap="round"/>
<line x1="191" y1="720.6" x2="204.8" y2="718.7" stroke="#6e6e6e" stroke-width="2.6" stroke-linecap="round"/>
<line x1="183.2" y1="712.6" x2="174.9" y2="714.95" stroke="#6e6e6e" stroke-width="2.6" stroke-linecap="round"/>
<line x1="174.9" y1="714.95" x2="166.6" y2="717.3" stroke="#f0a020" stroke-width="2.6" stroke-linecap="round"/>
<line x1="166.6" y1="717.3" x2="161.4" y2="711.85" stroke="#f0a020" stroke-width="2.6" stroke-linecap="round"/>
<line x1="161.4" y1="711.85" x2="156.2" y2="706.4" stroke="#6e6e6e" stroke-width="2.6" stroke-linecap="round"/>
<line x1="166.6" y1="717.3" x2="168.95" y2="719.1" stroke="#f0a020" stroke-width="2.6" stroke-linecap="round"/>
<line x1="168.95" y1="719.1" x2="171.3" y2="720.9" stroke="#6e6e6e" stroke-width="2.6" stroke-linecap="round"/>
<line x1="166.6" y1="717.3" x2="167.2" y2="725.4" stroke="#f0a020" stroke-width="2.6" stroke-linecap="round"/>
<line x1="167.2" y1="725.4" x2="167.8" y2="733.5" stroke="#6e6e6e" stroke-width="2.6" stroke-linecap="round"/>
<line x1="156.2" y1="706.4" x2="149.5" y2="696.1" stroke="#6e6e6e" stroke-width="2.3" stroke-linecap="round"/>
<line x1="149.5" y1="696.1" x2="138.6" y2="689.8" stroke="#6e6e6e" stroke-width="2.3" stroke-linecap="round"/>
<line x1="138.6" y1="689.8" x2="135.8" y2="692.6" stroke="#6e6e6e" stroke-width="2.3" stroke-linecap="round"/>
<line x1="135.8" y1="692.6" x2="142.5" y2="700.8" stroke="#6e6e6e" stroke-width="2.3" stroke-linecap="round"/>
<line x1="142.5" y1="700.8" x2="153" y2="708.6" stroke="#6e6e6e" stroke-width="2.3" stroke-linecap="round"/>
<line x1="153" y1="708.6" x2="156.2" y2="706.4" stroke="#6e6e6e" stroke-width="2.3" stroke-linecap="round"/>
<ellipse cx="156.2" cy="706.4" rx="3.02" ry="2.38" fill="url(#grayball)"/>
<ellipse cx="149.5" cy="696.1" rx="3.02" ry="2.38" fill="url(#grayball)"/>
<ellipse cx="138.6" cy="689.8" rx="3.02" ry="2.38" fill="url(#grayball)"/>
<ellipse cx="135.8" cy="692.6" rx="3.02" ry="2.38" fill="url(#grayball)"/>
<ellipse cx="142.5" cy="700.8" rx="3.02" ry="2.38" fill="url(#grayball)"/>
<ellipse cx="153" cy="708.6" rx="3.02" ry="2.38" fill="url(#grayball)"/>
<line x1="171.3" y1="720.9" x2="163" y2="721.8" stroke="#6e6e6e" stroke-width="2.3" stroke-linecap="round"/>
<line x1="163" y1="721.8" x2="154.7" y2="727.7" stroke="#6e6e6e" stroke-width="2.3" stroke-linecap="round"/>
<line x1="154.7" y1="727.7" x2="148.5" y2="725.6" stroke="#6e6e6e" stroke-width="2.3" stroke-linecap="round"/>
<line x1="148.5" y1="725.6" x2="144.8" y2="729.2" stroke="#6e6e6e" stroke-width="2.3" stroke-linecap="round"/>
<line x1="144.8" y1="729.2" x2="157" y2="730.6" stroke="#6e6e6e" stroke-width="2.3" stroke-linecap="round"/>
<line x1="157" y1="730.6" x2="171.3" y2="720.9" stroke="#6e6e6e" stroke-width="2.3" stroke-linecap="round"/>
<ellipse cx="171.3" cy="720.9" rx="3.02" ry="2.38" fill="url(#grayball)"/>
<ellipse cx="163" cy="721.8" rx="3.02" ry="2.38" fill="url(#grayball)"/>
<ellipse cx="154.7" cy="727.7" rx="3.02" ry="2.38" fill="url(#grayball)"/>
<ellipse cx="148.5" cy="725.6" rx="3.02" ry="2.38" fill="url(#grayball)"/>
<ellipse cx="144.8" cy="729.2" rx="3.02" ry="2.38" fill="url(#grayball)"/>
<ellipse cx="157" cy="730.6" rx="3.02" ry="2.38" fill="url(#grayball)"/>
<ellipse cx="191" cy="720.6" rx="3.02" ry="2.38" fill="url(#grayball)"/>
<ellipse cx="183.2" cy="712.6" rx="3.02" ry="2.38" fill="url(#grayball)"/>
<ellipse cx="167.8" cy="733.5" rx="3.02" ry="2.38" fill="url(#grayball)"/>
<ellipse cx="157.8" cy="739.1" rx="3.02" ry="2.38" fill="url(#grayball)"/>
<circle cx="166.6" cy="717.3" r="2.6" fill="#f0a020"/>
<text x="23" y="756.2" font-size="10" font-weight="bold" fill="#1a1a1a" textLength="26.5" lengthAdjust="spacingAndGlyphs">3aa-<tspan font-style="italic">R</tspan><tspan font-size="7" dy="2.2" font-style="italic">p</tspan></text>
<text x="194.8" y="759.6" font-size="10" font-weight="bold" fill="#1a1a1a" textLength="26.5" lengthAdjust="spacingAndGlyphs">3aa-<tspan font-style="italic">S</tspan><tspan font-size="7" dy="2.2" font-style="italic">p</tspan></text>
<text x="12.5" y="772.8" font-size="9" font-weight="bold" fill="#1a1a1a" textLength="30.2" lengthAdjust="spacingAndGlyphs">SC-XRD</text>
<text x="191.8" y="774.1" font-size="9" font-weight="bold" fill="#1a1a1a" textLength="29.7" lengthAdjust="spacingAndGlyphs">SC-XRD</text>
<path d="M111.5 695.7 L116.3 695.7 L116.3 841.3 L111.5 841.3 Z" fill="#fff" stroke="#444" stroke-width="0.7"/>
<path d="M116.3 695.7 L131.6 676 L131.6 818.3 L116.3 841.3 Z" fill="#fff" stroke="#444" stroke-width="0.7"/>
<path d="M111.5 695.7 L127 675 L131.6 676 L116.3 695.7 Z" fill="#fff" stroke="#444" stroke-width="0.7"/>
<text x="0" y="0" font-size="7" font-weight="bold" fill="#222" text-anchor="middle" transform="translate(126.5,757) rotate(-90)">mirror plane</text>
<path d="M55.7 808.5 L72.3 803 L82.7 817.3 L71.8 831.5 L55.4 825.8 Z" fill="#cfe6f8" stroke="#222" stroke-width="1.05"/>
<path d="M55.7 808.5 C45 798 48 781 62 779.5 C69 779 74 781 76 782.5" fill="none" stroke="#222" stroke-width="1.05"/>
<line x1="75.5" y1="789.7" x2="72.3" y2="803" stroke="#222" stroke-width="1.05"/>
<text x="77.6" y="786.5" font-size="9" fill="#222" text-anchor="middle" stroke="#222" stroke-width="0.15">P</text>
<path d="M85.1 807.4 Q92 817 88.8 827.5" fill="none" stroke="#222" stroke-width="1.05"/>
<path d="M86 831 L86.3 825.5 L90.8 827.5 Z" fill="#222"/>
<text x="55.4" y="842" font-size="9.6" font-style="italic" fill="#1e1e1e" stroke="#1e1e1e" stroke-width="0.25">R<tspan font-size="6.8" dy="2.2">p</tspan></text>
<circle cx="55.7" cy="808.5" r="2.5" fill="url(#pinkball)" stroke="#e78fa8" stroke-width="0.5"/>
<circle cx="72.3" cy="803" r="2.9" fill="url(#blackball)"/>
<circle cx="82.7" cy="817.3" r="2.9" fill="url(#blackball)"/>
<circle cx="71.8" cy="831.5" r="2.5" fill="url(#pinkball)" stroke="#e78fa8" stroke-width="0.5"/>
<circle cx="55.4" cy="825.8" r="2.5" fill="url(#pinkball)" stroke="#e78fa8" stroke-width="0.5"/>
<path d="M177.4 803 L194.2 808.5 L194.2 827.1 L176.9 833.1 L166.6 817.5 Z" fill="#cfe6f8" stroke="#222" stroke-width="1.05"/>
<path d="M174.5 780.5 C183 775 197 778 201 789 C204 798 200 805 194.2 808.5" fill="none" stroke="#222" stroke-width="1.05"/>
<line x1="173.4" y1="788.1" x2="177.4" y2="803" stroke="#222" stroke-width="1.05"/>
<text x="171.4" y="786.5" font-size="9" fill="#222" text-anchor="middle" stroke="#222" stroke-width="0.15">P</text>
<path d="M163.7 806.6 Q156.5 817 160.5 827.5" fill="none" stroke="#222" stroke-width="1.05"/>
<path d="M162.8 831 L158 827.8 L162 826 Z" fill="#222"/>
<text x="183.8" y="845.5" font-size="9.6" font-style="italic" fill="#1e1e1e" stroke="#1e1e1e" stroke-width="0.25">S<tspan font-size="6.8" dy="2.2">p</tspan></text>
<circle cx="177.4" cy="803" r="2.9" fill="url(#blackball)"/>
<circle cx="194.2" cy="808.5" r="2.5" fill="url(#pinkball)" stroke="#e78fa8" stroke-width="0.5"/>
<circle cx="194.2" cy="827.1" r="2.5" fill="url(#pinkball)" stroke="#e78fa8" stroke-width="0.5"/>
<circle cx="176.9" cy="833.1" r="2.5" fill="url(#pinkball)" stroke="#e78fa8" stroke-width="0.5"/>
<circle cx="166.6" cy="817.5" r="2.9" fill="url(#blackball)"/>
</svg></body></html>
